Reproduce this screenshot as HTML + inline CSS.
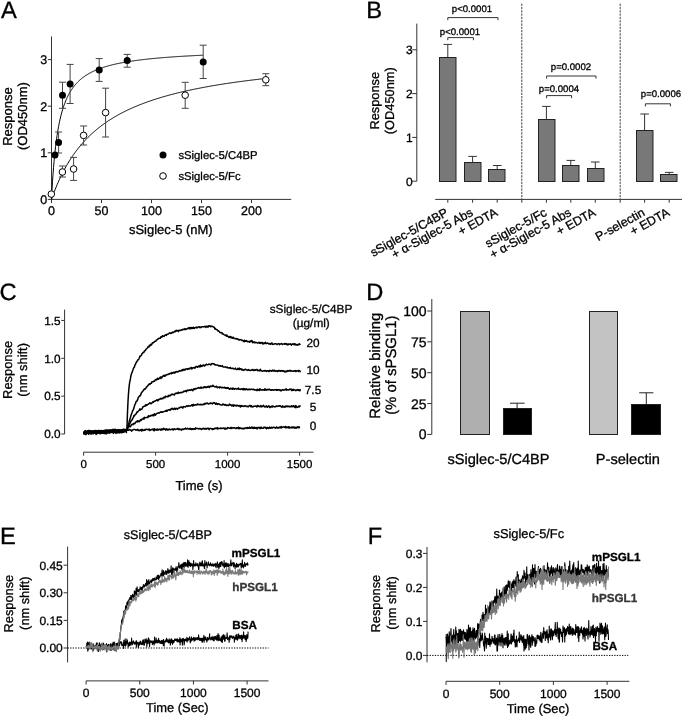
<!DOCTYPE html>
<html><head><meta charset="utf-8"><style>
html,body{margin:0;padding:0;background:#fff;}
svg{display:block;filter:grayscale(1);}
text{font-family:"Liberation Sans", sans-serif;}
</style></head><body>
<svg width="685" height="719" viewBox="0 0 685 719" text-rendering="geometricPrecision">
<rect width="685" height="719" fill="#fff"/>
<text x="0.90" y="17.80" font-size="23.7" text-anchor="start" fill="#000" stroke="#000" stroke-width="0.3" >A</text>
<text x="366.20" y="17.80" font-size="23.7" text-anchor="start" fill="#000" stroke="#000" stroke-width="0.3" >B</text>
<text x="-0.60" y="299.80" font-size="23.7" text-anchor="start" fill="#000" stroke="#000" stroke-width="0.3" >C</text>
<text x="366.30" y="299.80" font-size="23.7" text-anchor="start" fill="#000" stroke="#000" stroke-width="0.3" >D</text>
<text x="-0.10" y="543.90" font-size="23.7" text-anchor="start" fill="#000" stroke="#000" stroke-width="0.3" >E</text>
<text x="367.70" y="543.90" font-size="23.7" text-anchor="start" fill="#000" stroke="#000" stroke-width="0.3" >F</text>
<line x1="51.50" y1="36.40" x2="51.50" y2="199.40" stroke="#333" stroke-width="1" />
<line x1="51.50" y1="199.40" x2="291.20" y2="199.40" stroke="#333" stroke-width="1" />
<line x1="47.80" y1="199.40" x2="51.50" y2="199.40" stroke="#333" stroke-width="1" />
<text x="47.20" y="203.80" font-size="12.5" text-anchor="end" fill="#000" stroke="#000" stroke-width="0.3" >0</text>
<line x1="47.80" y1="152.80" x2="51.50" y2="152.80" stroke="#333" stroke-width="1" />
<text x="47.20" y="157.20" font-size="12.5" text-anchor="end" fill="#000" stroke="#000" stroke-width="0.3" >1</text>
<line x1="47.80" y1="106.20" x2="51.50" y2="106.20" stroke="#333" stroke-width="1" />
<text x="47.20" y="110.60" font-size="12.5" text-anchor="end" fill="#000" stroke="#000" stroke-width="0.3" >2</text>
<line x1="47.80" y1="59.60" x2="51.50" y2="59.60" stroke="#333" stroke-width="1" />
<text x="47.20" y="64.00" font-size="12.5" text-anchor="end" fill="#000" stroke="#000" stroke-width="0.3" >3</text>
<line x1="51.50" y1="199.40" x2="51.50" y2="203.10" stroke="#333" stroke-width="1" />
<text x="51.50" y="215.30" font-size="12.5" text-anchor="middle" fill="#000" stroke="#000" stroke-width="0.3" >0</text>
<line x1="101.50" y1="199.40" x2="101.50" y2="203.10" stroke="#333" stroke-width="1" />
<text x="101.50" y="215.30" font-size="12.5" text-anchor="middle" fill="#000" stroke="#000" stroke-width="0.3" >50</text>
<line x1="151.50" y1="199.40" x2="151.50" y2="203.10" stroke="#333" stroke-width="1" />
<text x="151.50" y="215.30" font-size="12.5" text-anchor="middle" fill="#000" stroke="#000" stroke-width="0.3" >100</text>
<line x1="201.50" y1="199.40" x2="201.50" y2="203.10" stroke="#333" stroke-width="1" />
<text x="201.50" y="215.30" font-size="12.5" text-anchor="middle" fill="#000" stroke="#000" stroke-width="0.3" >150</text>
<line x1="251.50" y1="199.40" x2="251.50" y2="203.10" stroke="#333" stroke-width="1" />
<text x="251.50" y="215.30" font-size="12.5" text-anchor="middle" fill="#000" stroke="#000" stroke-width="0.3" >200</text>
<text x="170.80" y="234.00" font-size="13" text-anchor="middle" fill="#000" stroke="#000" stroke-width="0.3" >sSiglec-5 (nM)</text>
<text x="11.90" y="116.60" font-size="13" text-anchor="middle" fill="#000" stroke="#000" stroke-width="0.3" transform="rotate(-90 11.90 116.60)" >Response</text>
<text x="27.20" y="116.10" font-size="13" text-anchor="middle" fill="#000" stroke="#000" stroke-width="0.3" transform="rotate(-90 27.20 116.10)" >(OD450nm)</text>
<polyline points="51.50,199.40 52.01,189.96 52.51,181.62 53.02,174.21 53.53,167.58 54.04,161.61 54.54,156.21 55.05,151.30 55.56,146.81 56.07,142.70 56.57,138.91 57.08,135.42 57.59,132.19 58.10,129.18 58.60,126.38 59.11,123.77 59.62,121.33 60.13,119.04 60.63,116.89 61.14,114.86 61.65,112.95 62.15,111.15 62.66,109.44 63.17,107.83 63.68,106.29 64.18,104.84 64.69,103.45 65.20,102.13 65.71,100.87 66.21,99.67 66.72,98.52 67.23,97.42 67.74,96.37 68.24,95.36 68.75,94.40 69.26,93.47 69.76,92.58 70.27,91.72 70.78,90.89 71.29,90.10 71.79,89.33 72.30,88.59 72.81,87.88 73.32,87.19 73.82,86.53 74.33,85.89 74.84,85.26 75.35,84.66 75.85,84.08 76.36,83.52 76.87,82.97 77.38,82.44 77.88,81.92 78.39,81.43 78.90,80.94 79.40,80.47 79.91,80.01 80.42,79.57 80.93,79.13 81.43,78.71 81.94,78.30 82.45,77.90 82.96,77.51 83.46,77.14 83.97,76.77 84.48,76.41 84.99,76.06 85.49,75.71 86.00,75.38 86.51,75.05 87.02,74.73 87.52,74.42 88.03,74.12 88.54,73.82 89.04,73.53 89.55,73.25 90.06,72.97 90.57,72.70 91.07,72.43 91.58,72.17 92.09,71.92 92.60,71.67 93.10,71.42 93.61,71.18 94.12,70.95 94.63,70.72 95.13,70.49 95.64,70.27 96.15,70.05 96.65,69.84 97.16,69.63 97.67,69.43 98.18,69.23 98.68,69.03 99.19,68.84 99.70,68.65 100.21,68.46 100.71,68.28 101.22,68.10 101.73,67.92 102.24,67.75 102.74,67.58 103.25,67.41 103.76,67.25 104.27,67.08 104.77,66.92 105.28,66.77 105.79,66.61 106.29,66.46 106.80,66.31 107.31,66.17 107.82,66.02 108.32,65.88 108.83,65.74 109.34,65.60 109.85,65.46 110.35,65.33 110.86,65.20 111.37,65.07 111.88,64.94 112.38,64.82 112.89,64.69 113.40,64.57 113.91,64.45 114.41,64.33 114.92,64.21 115.43,64.10 115.93,63.99 116.44,63.87 116.95,63.76 117.46,63.65 117.96,63.55 118.47,63.44 118.98,63.34 119.49,63.23 119.99,63.13 120.50,63.03 121.01,62.93 121.52,62.83 122.02,62.74 122.53,62.64 123.04,62.55 123.54,62.45 124.05,62.36 124.56,62.27 125.07,62.18 125.57,62.09 126.08,62.01 126.59,61.92 127.10,61.83 127.60,61.75 128.11,61.67 128.62,61.59 129.13,61.50 129.63,61.42 130.14,61.34 130.65,61.27 131.16,61.19 131.66,61.11 132.17,61.04 132.68,60.96 133.18,60.89 133.69,60.82 134.20,60.74 134.71,60.67 135.21,60.60 135.72,60.53 136.23,60.46 136.74,60.39 137.24,60.33 137.75,60.26 138.26,60.19 138.77,60.13 139.27,60.06 139.78,60.00 140.29,59.93 140.79,59.87 141.30,59.81 141.81,59.75 142.32,59.69 142.82,59.63 143.33,59.57 143.84,59.51 144.35,59.45 144.85,59.39 145.36,59.34 145.87,59.28 146.38,59.22 146.88,59.17 147.39,59.11 147.90,59.06 148.41,59.00 148.91,58.95 149.42,58.90 149.93,58.85 150.43,58.79 150.94,58.74 151.45,58.69 151.96,58.64 152.46,58.59 152.97,58.54 153.48,58.49 153.99,58.44 154.49,58.40 155.00,58.35 155.51,58.30 156.02,58.25 156.52,58.21 157.03,58.16 157.54,58.12 158.05,58.07 158.55,58.03 159.06,57.98 159.57,57.94 160.07,57.89 160.58,57.85 161.09,57.81 161.60,57.77 162.10,57.72 162.61,57.68 163.12,57.64 163.63,57.60 164.13,57.56 164.64,57.52 165.15,57.48 165.66,57.44 166.16,57.40 166.67,57.36 167.18,57.32 167.68,57.28 168.19,57.24 168.70,57.21 169.21,57.17 169.71,57.13 170.22,57.10 170.73,57.06 171.24,57.02 171.74,56.99 172.25,56.95 172.76,56.92 173.27,56.88 173.77,56.85 174.28,56.81 174.79,56.78 175.30,56.74 175.80,56.71 176.31,56.68 176.82,56.64 177.32,56.61 177.83,56.58 178.34,56.54 178.85,56.51 179.35,56.48 179.86,56.45 180.37,56.42 180.88,56.38 181.38,56.35 181.89,56.32 182.40,56.29 182.91,56.26 183.41,56.23 183.92,56.20 184.43,56.17 184.94,56.14 185.44,56.11 185.95,56.08 186.46,56.05 186.96,56.03 187.47,56.00 187.98,55.97 188.49,55.94 188.99,55.91 189.50,55.88 190.01,55.86 190.52,55.83 191.02,55.80 191.53,55.78 192.04,55.75 192.55,55.72 193.05,55.70 193.56,55.67 194.07,55.64 194.57,55.62 195.08,55.59 195.59,55.57 196.10,55.54 196.60,55.52 197.11,55.49 197.62,55.47 198.13,55.44 198.63,55.42 199.14,55.39 199.65,55.37 200.16,55.34 200.66,55.32 201.17,55.30 201.68,55.27 202.19,55.25 202.69,55.23 203.20,55.20" fill="none" stroke="#000" stroke-width="1" stroke-linejoin="round" />
<polyline points="51.50,199.40 52.22,197.35 52.93,195.36 53.65,193.42 54.37,191.54 55.08,189.70 55.80,187.90 56.52,186.16 57.23,184.45 57.95,182.79 58.67,181.17 59.38,179.59 60.10,178.04 60.82,176.53 61.53,175.06 62.25,173.62 62.97,172.21 63.68,170.84 64.40,169.49 65.12,168.17 65.83,166.89 66.55,165.63 67.27,164.39 67.98,163.18 68.70,162.00 69.42,160.84 70.13,159.71 70.85,158.60 71.57,157.51 72.28,156.44 73.00,155.39 73.72,154.36 74.44,153.36 75.15,152.37 75.87,151.40 76.59,150.45 77.30,149.51 78.02,148.59 78.74,147.69 79.45,146.81 80.17,145.94 80.89,145.09 81.60,144.25 82.32,143.42 83.04,142.62 83.75,141.82 84.47,141.04 85.19,140.27 85.90,139.51 86.62,138.77 87.34,138.03 88.05,137.31 88.77,136.61 89.49,135.91 90.20,135.22 90.92,134.55 91.64,133.88 92.35,133.23 93.07,132.58 93.79,131.95 94.50,131.32 95.22,130.71 95.94,130.10 96.65,129.50 97.37,128.91 98.09,128.33 98.80,127.76 99.52,127.20 100.24,126.64 100.95,126.09 101.67,125.55 102.39,125.02 103.10,124.50 103.82,123.98 104.54,123.47 105.25,122.96 105.97,122.47 106.69,121.97 107.40,121.49 108.12,121.01 108.84,120.54 109.55,120.08 110.27,119.62 110.99,119.16 111.70,118.72 112.42,118.27 113.14,117.84 113.85,117.41 114.57,116.98 115.29,116.56 116.01,116.15 116.72,115.74 117.44,115.33 118.16,114.93 118.87,114.54 119.59,114.15 120.31,113.76 121.02,113.38 121.74,113.00 122.46,112.63 123.17,112.26 123.89,111.90 124.61,111.54 125.32,111.18 126.04,110.83 126.76,110.48 127.47,110.14 128.19,109.80 128.91,109.46 129.62,109.13 130.34,108.80 131.06,108.48 131.77,108.16 132.49,107.84 133.21,107.52 133.92,107.21 134.64,106.90 135.36,106.60 136.07,106.30 136.79,106.00 137.51,105.70 138.22,105.41 138.94,105.12 139.66,104.83 140.37,104.55 141.09,104.27 141.81,103.99 142.52,103.72 143.24,103.45 143.96,103.18 144.67,102.91 145.39,102.64 146.11,102.38 146.82,102.12 147.54,101.87 148.26,101.61 148.97,101.36 149.69,101.11 150.41,100.87 151.12,100.62 151.84,100.38 152.56,100.14 153.27,99.90 153.99,99.67 154.71,99.43 155.42,99.20 156.14,98.97 156.86,98.74 157.57,98.52 158.29,98.30 159.01,98.08 159.73,97.86 160.44,97.64 161.16,97.43 161.88,97.21 162.59,97.00 163.31,96.79 164.03,96.58 164.74,96.38 165.46,96.17 166.18,95.97 166.89,95.77 167.61,95.57 168.33,95.37 169.04,95.18 169.76,94.99 170.48,94.79 171.19,94.60 171.91,94.41 172.63,94.23 173.34,94.04 174.06,93.86 174.78,93.67 175.49,93.49 176.21,93.31 176.93,93.13 177.64,92.96 178.36,92.78 179.08,92.61 179.79,92.43 180.51,92.26 181.23,92.09 181.94,91.92 182.66,91.76 183.38,91.59 184.09,91.43 184.81,91.26 185.53,91.10 186.24,90.94 186.96,90.78 187.68,90.62 188.39,90.46 189.11,90.31 189.83,90.15 190.54,90.00 191.26,89.84 191.98,89.69 192.69,89.54 193.41,89.39 194.13,89.25 194.84,89.10 195.56,88.95 196.28,88.81 196.99,88.66 197.71,88.52 198.43,88.38 199.14,88.24 199.86,88.10 200.58,87.96 201.29,87.82 202.01,87.68 202.73,87.55 203.45,87.41 204.16,87.28 204.88,87.15 205.60,87.01 206.31,86.88 207.03,86.75 207.75,86.62 208.46,86.49 209.18,86.37 209.90,86.24 210.61,86.11 211.33,85.99 212.05,85.86 212.76,85.74 213.48,85.62 214.20,85.50 214.91,85.38 215.63,85.26 216.35,85.14 217.06,85.02 217.78,84.90 218.50,84.78 219.21,84.67 219.93,84.55 220.65,84.44 221.36,84.32 222.08,84.21 222.80,84.10 223.51,83.98 224.23,83.87 224.95,83.76 225.66,83.65 226.38,83.54 227.10,83.44 227.81,83.33 228.53,83.22 229.25,83.12 229.96,83.01 230.68,82.90 231.40,82.80 232.11,82.70 232.83,82.59 233.55,82.49 234.26,82.39 234.98,82.29 235.70,82.19 236.41,82.09 237.13,81.99 237.85,81.89 238.56,81.79 239.28,81.69 240.00,81.60 240.71,81.50 241.43,81.40 242.15,81.31 242.86,81.21 243.58,81.12 244.30,81.03 245.02,80.93 245.73,80.84 246.45,80.75 247.17,80.66 247.88,80.57 248.60,80.48 249.32,80.39 250.03,80.30 250.75,80.21 251.47,80.12 252.18,80.03 252.90,79.94 253.62,79.86 254.33,79.77 255.05,79.69 255.77,79.60 256.48,79.52 257.20,79.43 257.92,79.35 258.63,79.26 259.35,79.18 260.07,79.10 260.78,79.02 261.50,78.93 262.22,78.85 262.93,78.77 263.65,78.69 264.37,78.61 265.08,78.53 265.80,78.45" fill="none" stroke="#000" stroke-width="1" stroke-linejoin="round" />
<line x1="58.60" y1="132.00" x2="58.60" y2="153.00" stroke="#444" stroke-width="1" />
<line x1="55.10" y1="132.00" x2="62.10" y2="132.00" stroke="#444" stroke-width="1" />
<line x1="55.10" y1="153.00" x2="62.10" y2="153.00" stroke="#444" stroke-width="1" />
<line x1="62.50" y1="82.20" x2="62.50" y2="108.30" stroke="#444" stroke-width="1" />
<line x1="59.00" y1="82.20" x2="66.00" y2="82.20" stroke="#444" stroke-width="1" />
<line x1="59.00" y1="108.30" x2="66.00" y2="108.30" stroke="#444" stroke-width="1" />
<line x1="70.10" y1="64.40" x2="70.10" y2="103.50" stroke="#444" stroke-width="1" />
<line x1="66.60" y1="64.40" x2="73.60" y2="64.40" stroke="#444" stroke-width="1" />
<line x1="66.60" y1="103.50" x2="73.60" y2="103.50" stroke="#444" stroke-width="1" />
<line x1="99.20" y1="58.60" x2="99.20" y2="81.40" stroke="#444" stroke-width="1" />
<line x1="95.70" y1="58.60" x2="102.70" y2="58.60" stroke="#444" stroke-width="1" />
<line x1="95.70" y1="81.40" x2="102.70" y2="81.40" stroke="#444" stroke-width="1" />
<line x1="127.20" y1="54.40" x2="127.20" y2="67.20" stroke="#444" stroke-width="1" />
<line x1="123.70" y1="54.40" x2="130.70" y2="54.40" stroke="#444" stroke-width="1" />
<line x1="123.70" y1="67.20" x2="130.70" y2="67.20" stroke="#444" stroke-width="1" />
<line x1="203.20" y1="45.20" x2="203.20" y2="78.50" stroke="#444" stroke-width="1" />
<line x1="199.70" y1="45.20" x2="206.70" y2="45.20" stroke="#444" stroke-width="1" />
<line x1="199.70" y1="78.50" x2="206.70" y2="78.50" stroke="#444" stroke-width="1" />
<line x1="62.40" y1="166.00" x2="62.40" y2="177.00" stroke="#444" stroke-width="1" />
<line x1="58.90" y1="166.00" x2="65.90" y2="166.00" stroke="#444" stroke-width="1" />
<line x1="58.90" y1="177.00" x2="65.90" y2="177.00" stroke="#444" stroke-width="1" />
<line x1="73.60" y1="157.40" x2="73.60" y2="180.40" stroke="#444" stroke-width="1" />
<line x1="70.10" y1="157.40" x2="77.10" y2="157.40" stroke="#444" stroke-width="1" />
<line x1="70.10" y1="180.40" x2="77.10" y2="180.40" stroke="#444" stroke-width="1" />
<line x1="83.60" y1="126.00" x2="83.60" y2="145.00" stroke="#444" stroke-width="1" />
<line x1="80.10" y1="126.00" x2="87.10" y2="126.00" stroke="#444" stroke-width="1" />
<line x1="80.10" y1="145.00" x2="87.10" y2="145.00" stroke="#444" stroke-width="1" />
<line x1="105.60" y1="88.20" x2="105.60" y2="137.00" stroke="#444" stroke-width="1" />
<line x1="102.10" y1="88.20" x2="109.10" y2="88.20" stroke="#444" stroke-width="1" />
<line x1="102.10" y1="137.00" x2="109.10" y2="137.00" stroke="#444" stroke-width="1" />
<line x1="185.20" y1="82.30" x2="185.20" y2="108.30" stroke="#444" stroke-width="1" />
<line x1="181.70" y1="82.30" x2="188.70" y2="82.30" stroke="#444" stroke-width="1" />
<line x1="181.70" y1="108.30" x2="188.70" y2="108.30" stroke="#444" stroke-width="1" />
<line x1="265.80" y1="73.70" x2="265.80" y2="85.70" stroke="#444" stroke-width="1" />
<line x1="262.30" y1="73.70" x2="269.30" y2="73.70" stroke="#444" stroke-width="1" />
<line x1="262.30" y1="85.70" x2="269.30" y2="85.70" stroke="#444" stroke-width="1" />
<circle cx="55" cy="155" r="3.5" fill="#000"/>
<circle cx="58.6" cy="142.6" r="3.5" fill="#000"/>
<circle cx="62.5" cy="95.3" r="3.5" fill="#000"/>
<circle cx="70.1" cy="83.9" r="3.5" fill="#000"/>
<circle cx="99.2" cy="70" r="3.5" fill="#000"/>
<circle cx="127.2" cy="60.6" r="3.5" fill="#000"/>
<circle cx="203.2" cy="62.1" r="3.5" fill="#000"/>
<circle cx="51.3" cy="194.1" r="3.3" fill="#fff" stroke="#000" stroke-width="1"/>
<circle cx="62.4" cy="172" r="3.3" fill="#fff" stroke="#000" stroke-width="1"/>
<circle cx="73.6" cy="169" r="3.3" fill="#fff" stroke="#000" stroke-width="1"/>
<circle cx="83.6" cy="135.4" r="3.3" fill="#fff" stroke="#000" stroke-width="1"/>
<circle cx="105.6" cy="112.6" r="3.3" fill="#fff" stroke="#000" stroke-width="1"/>
<circle cx="185.2" cy="95.2" r="3.3" fill="#fff" stroke="#000" stroke-width="1"/>
<circle cx="265.8" cy="79.8" r="3.3" fill="#fff" stroke="#000" stroke-width="1"/>
<circle cx="163" cy="155" r="3.5" fill="#000"/>
<circle cx="163" cy="176" r="3.3" fill="#fff" stroke="#000" stroke-width="1"/>
<text x="178.40" y="159.40" font-size="11.3" text-anchor="start" fill="#000" stroke="#000" stroke-width="0.3" >sSiglec-5/C4BP</text>
<text x="178.40" y="180.20" font-size="11.3" text-anchor="start" fill="#000" stroke="#000" stroke-width="0.3" >sSiglec-5/Fc</text>
<line x1="416.80" y1="23.60" x2="416.80" y2="181.20" stroke="#333" stroke-width="1" />
<line x1="412.20" y1="181.20" x2="416.80" y2="181.20" stroke="#333" stroke-width="1" />
<text x="412.80" y="185.50" font-size="12" text-anchor="end" fill="#000" stroke="#000" stroke-width="0.3" >0</text>
<line x1="412.20" y1="137.40" x2="416.80" y2="137.40" stroke="#333" stroke-width="1" />
<text x="412.80" y="141.70" font-size="12" text-anchor="end" fill="#000" stroke="#000" stroke-width="0.3" >1</text>
<line x1="412.20" y1="93.60" x2="416.80" y2="93.60" stroke="#333" stroke-width="1" />
<text x="412.80" y="97.90" font-size="12" text-anchor="end" fill="#000" stroke="#000" stroke-width="0.3" >2</text>
<line x1="412.20" y1="49.80" x2="416.80" y2="49.80" stroke="#333" stroke-width="1" />
<text x="412.80" y="54.10" font-size="12" text-anchor="end" fill="#000" stroke="#000" stroke-width="0.3" >3</text>
<text x="378.90" y="100.70" font-size="12.8" text-anchor="middle" fill="#000" stroke="#000" stroke-width="0.3" transform="rotate(-90 378.90 100.70)" >Response</text>
<text x="394.00" y="100.70" font-size="12.8" text-anchor="middle" fill="#000" stroke="#000" stroke-width="0.3" transform="rotate(-90 394.00 100.70)" >(OD450nm)</text>
<line x1="435.20" y1="199.40" x2="682.00" y2="199.40" stroke="#333" stroke-width="1" />
<line x1="447.80" y1="199.40" x2="447.80" y2="202.70" stroke="#333" stroke-width="1" />
<line x1="472.60" y1="199.40" x2="472.60" y2="202.70" stroke="#333" stroke-width="1" />
<line x1="497.20" y1="199.40" x2="497.20" y2="202.70" stroke="#333" stroke-width="1" />
<line x1="521.80" y1="199.40" x2="521.80" y2="202.70" stroke="#333" stroke-width="1" />
<line x1="546.40" y1="199.40" x2="546.40" y2="202.70" stroke="#333" stroke-width="1" />
<line x1="570.80" y1="199.40" x2="570.80" y2="202.70" stroke="#333" stroke-width="1" />
<line x1="595.30" y1="199.40" x2="595.30" y2="202.70" stroke="#333" stroke-width="1" />
<line x1="620.20" y1="199.40" x2="620.20" y2="202.70" stroke="#333" stroke-width="1" />
<line x1="644.60" y1="199.40" x2="644.60" y2="202.70" stroke="#333" stroke-width="1" />
<line x1="669.20" y1="199.40" x2="669.20" y2="202.70" stroke="#333" stroke-width="1" />
<line x1="521.80" y1="3.60" x2="521.80" y2="199.40" stroke="#444" stroke-width="1" stroke-dasharray="2.3,1"/>
<line x1="620.20" y1="3.60" x2="620.20" y2="199.40" stroke="#444" stroke-width="1" stroke-dasharray="2.3,1"/>
<line x1="447.80" y1="57.00" x2="447.80" y2="44.40" stroke="#333" stroke-width="1" />
<line x1="443.50" y1="44.40" x2="452.10" y2="44.40" stroke="#333" stroke-width="1" />
<rect x="439.50" y="57.50" width="16.5" height="124.00" fill="#787878" stroke="#222" stroke-width="1"/>
<line x1="472.60" y1="162.40" x2="472.60" y2="156.40" stroke="#333" stroke-width="1" />
<line x1="468.30" y1="156.40" x2="476.90" y2="156.40" stroke="#333" stroke-width="1" />
<rect x="464.50" y="162.50" width="16.5" height="19.00" fill="#787878" stroke="#222" stroke-width="1"/>
<line x1="497.20" y1="169.00" x2="497.20" y2="165.50" stroke="#333" stroke-width="1" />
<line x1="492.90" y1="165.50" x2="501.50" y2="165.50" stroke="#333" stroke-width="1" />
<rect x="488.50" y="169.50" width="16.5" height="12.00" fill="#787878" stroke="#222" stroke-width="1"/>
<line x1="546.40" y1="119.60" x2="546.40" y2="106.40" stroke="#333" stroke-width="1" />
<line x1="542.10" y1="106.40" x2="550.70" y2="106.40" stroke="#333" stroke-width="1" />
<rect x="538.50" y="119.50" width="16.5" height="62.00" fill="#787878" stroke="#222" stroke-width="1"/>
<line x1="570.80" y1="165.60" x2="570.80" y2="160.40" stroke="#333" stroke-width="1" />
<line x1="566.50" y1="160.40" x2="575.10" y2="160.40" stroke="#333" stroke-width="1" />
<rect x="562.50" y="165.50" width="16.5" height="16.00" fill="#787878" stroke="#222" stroke-width="1"/>
<line x1="595.30" y1="168.60" x2="595.30" y2="162.00" stroke="#333" stroke-width="1" />
<line x1="591.00" y1="162.00" x2="599.60" y2="162.00" stroke="#333" stroke-width="1" />
<rect x="587.50" y="168.50" width="16.5" height="13.00" fill="#787878" stroke="#222" stroke-width="1"/>
<line x1="644.60" y1="130.20" x2="644.60" y2="114.00" stroke="#333" stroke-width="1" />
<line x1="640.30" y1="114.00" x2="648.90" y2="114.00" stroke="#333" stroke-width="1" />
<rect x="636.50" y="130.50" width="16.5" height="51.00" fill="#787878" stroke="#222" stroke-width="1"/>
<line x1="669.20" y1="174.40" x2="669.20" y2="172.40" stroke="#333" stroke-width="1" />
<line x1="664.90" y1="172.40" x2="673.50" y2="172.40" stroke="#333" stroke-width="1" />
<rect x="660.50" y="174.50" width="16.5" height="7.00" fill="#787878" stroke="#222" stroke-width="1"/>
<polyline points="447.8,20.200000000000003 447.8,17.6 498,17.6 498,20.200000000000003" fill="none" stroke="#333" stroke-width="1"/>
<text x="472.00" y="11.60" font-size="9.6" text-anchor="middle" fill="#000" stroke="#000" stroke-width="0.3" >p&lt;0.0001</text>
<polyline points="447.8,40.2 447.8,37.6 473.4,37.6 473.4,40.2" fill="none" stroke="#333" stroke-width="1"/>
<text x="460.00" y="35.00" font-size="9.6" text-anchor="middle" fill="#000" stroke="#000" stroke-width="0.3" >p&lt;0.0001</text>
<polyline points="546.6,78.6 546.6,76 596,76 596,78.6" fill="none" stroke="#333" stroke-width="1"/>
<text x="571.00" y="70.40" font-size="9.6" text-anchor="middle" fill="#000" stroke="#000" stroke-width="0.3" >p=0.0002</text>
<polyline points="546.6,98.19999999999999 546.6,95.6 571.6,95.6 571.6,98.19999999999999" fill="none" stroke="#333" stroke-width="1"/>
<text x="559.00" y="92.40" font-size="9.6" text-anchor="middle" fill="#000" stroke="#000" stroke-width="0.3" >p=0.0004</text>
<polyline points="645.4,106.39999999999999 645.4,103.8 670.4,103.8 670.4,106.39999999999999" fill="none" stroke="#333" stroke-width="1"/>
<text x="661.00" y="97.00" font-size="9.6" text-anchor="middle" fill="#000" stroke="#000" stroke-width="0.3" >p=0.0006</text>
<text x="449.10" y="214.90" font-size="12.4" text-anchor="end" fill="#000" stroke="#000" stroke-width="0.3" transform="rotate(-29 449.10 214.90)" >sSiglec-5/C4BP</text>
<text x="473.90" y="214.90" font-size="12.4" text-anchor="end" fill="#000" stroke="#000" stroke-width="0.3" transform="rotate(-29 473.90 214.90)" >+ α-Siglec-5 Abs</text>
<text x="498.50" y="214.90" font-size="12.4" text-anchor="end" fill="#000" stroke="#000" stroke-width="0.3" transform="rotate(-29 498.50 214.90)" >+ EDTA</text>
<text x="547.70" y="214.90" font-size="12.4" text-anchor="end" fill="#000" stroke="#000" stroke-width="0.3" transform="rotate(-29 547.70 214.90)" >sSiglec-5/Fc</text>
<text x="572.10" y="214.90" font-size="12.4" text-anchor="end" fill="#000" stroke="#000" stroke-width="0.3" transform="rotate(-29 572.10 214.90)" >+ α-Siglec-5 Abs</text>
<text x="596.60" y="214.90" font-size="12.4" text-anchor="end" fill="#000" stroke="#000" stroke-width="0.3" transform="rotate(-29 596.60 214.90)" >+ EDTA</text>
<text x="645.90" y="214.90" font-size="12.4" text-anchor="end" fill="#000" stroke="#000" stroke-width="0.3" transform="rotate(-29 645.90 214.90)" >P-selectin</text>
<text x="670.50" y="214.90" font-size="12.4" text-anchor="end" fill="#000" stroke="#000" stroke-width="0.3" transform="rotate(-29 670.50 214.90)" >+ EDTA</text>
<line x1="64.60" y1="309.60" x2="64.60" y2="434.00" stroke="#333" stroke-width="1" />
<line x1="61.30" y1="434.00" x2="64.60" y2="434.00" stroke="#333" stroke-width="1" />
<text x="60.70" y="438.20" font-size="11.8" text-anchor="end" fill="#000" stroke="#000" stroke-width="0.3" >0.0</text>
<line x1="61.30" y1="396.15" x2="64.60" y2="396.15" stroke="#333" stroke-width="1" />
<text x="60.70" y="400.35" font-size="11.8" text-anchor="end" fill="#000" stroke="#000" stroke-width="0.3" >0.5</text>
<line x1="61.30" y1="358.30" x2="64.60" y2="358.30" stroke="#333" stroke-width="1" />
<text x="60.70" y="362.50" font-size="11.8" text-anchor="end" fill="#000" stroke="#000" stroke-width="0.3" >1.0</text>
<line x1="61.30" y1="320.45" x2="64.60" y2="320.45" stroke="#333" stroke-width="1" />
<text x="60.70" y="324.65" font-size="11.8" text-anchor="end" fill="#000" stroke="#000" stroke-width="0.3" >1.5</text>
<line x1="83.50" y1="452.20" x2="313.50" y2="452.20" stroke="#333" stroke-width="1" />
<line x1="83.60" y1="452.20" x2="83.60" y2="455.70" stroke="#333" stroke-width="1" />
<text x="83.60" y="467.80" font-size="11.5" text-anchor="middle" fill="#000" stroke="#000" stroke-width="0.3" >0</text>
<line x1="155.60" y1="452.20" x2="155.60" y2="455.70" stroke="#333" stroke-width="1" />
<text x="155.60" y="467.80" font-size="11.5" text-anchor="middle" fill="#000" stroke="#000" stroke-width="0.3" >500</text>
<line x1="227.60" y1="452.20" x2="227.60" y2="455.70" stroke="#333" stroke-width="1" />
<text x="227.60" y="467.80" font-size="11.5" text-anchor="middle" fill="#000" stroke="#000" stroke-width="0.3" >1000</text>
<line x1="299.60" y1="452.20" x2="299.60" y2="455.70" stroke="#333" stroke-width="1" />
<text x="299.60" y="467.80" font-size="11.5" text-anchor="middle" fill="#000" stroke="#000" stroke-width="0.3" >1500</text>
<text x="199.00" y="489.70" font-size="13" text-anchor="middle" fill="#000" stroke="#000" stroke-width="0.3" >Time (s)</text>
<text x="12.20" y="369.90" font-size="12.9" text-anchor="middle" fill="#000" stroke="#000" stroke-width="0.3" transform="rotate(-90 12.20 369.90)" >Response</text>
<text x="27.30" y="369.90" font-size="12.9" text-anchor="middle" fill="#000" stroke="#000" stroke-width="0.3" transform="rotate(-90 27.30 369.90)" >(nm shift)</text>
<text x="311.00" y="313.40" font-size="11.8" text-anchor="middle" fill="#000" stroke="#000" stroke-width="0.3" >sSiglec-5/C4BP</text>
<text x="311.30" y="327.30" font-size="11.8" text-anchor="middle" fill="#000" stroke="#000" stroke-width="0.3" >(µg/ml)</text>
<text x="313.00" y="347.40" font-size="11.8" text-anchor="middle" fill="#000" stroke="#000" stroke-width="0.3" >20</text>
<text x="313.00" y="374.20" font-size="11.8" text-anchor="middle" fill="#000" stroke="#000" stroke-width="0.3" >10</text>
<text x="313.00" y="394.20" font-size="11.8" text-anchor="middle" fill="#000" stroke="#000" stroke-width="0.3" >7.5</text>
<text x="313.00" y="410.80" font-size="11.8" text-anchor="middle" fill="#000" stroke="#000" stroke-width="0.3" >5</text>
<text x="313.00" y="429.80" font-size="11.8" text-anchor="middle" fill="#000" stroke="#000" stroke-width="0.3" >0</text>
<polyline points="126.90,430.40 127.40,414.76 127.90,403.20 128.40,394.73 128.90,388.90 129.40,384.13 129.90,381.13 130.40,378.96 130.90,375.91 131.40,373.99 131.90,372.89 132.40,371.42 132.90,370.02 133.40,368.38 133.90,367.69 134.40,366.97 134.90,365.06 135.40,364.51 135.90,362.93 136.40,362.32 136.90,361.20 137.40,361.08 137.90,359.80 138.40,359.69 138.90,358.85 139.40,357.94 139.90,356.14 140.40,356.30 140.90,355.81 141.40,355.19 141.90,353.77 142.40,353.58 142.90,352.71 143.40,352.15 143.90,352.37 144.40,350.93 144.90,350.68 145.40,350.52 145.90,349.29 146.40,348.95 146.90,348.51 147.40,347.96 147.90,346.87 148.40,346.95 148.90,347.03 149.40,345.24 149.90,345.86 150.40,345.06 150.90,344.27 151.40,345.02 151.90,344.04 152.40,342.73 152.90,342.90 153.40,342.72 153.90,341.98 154.40,341.99 154.90,341.28 155.40,341.25 155.90,341.24 156.40,339.94 156.90,339.99 157.40,339.36 157.90,339.30 158.40,338.38 158.90,338.35 159.40,338.21 159.90,338.41 160.40,338.23 160.90,336.83 161.40,336.79 161.90,337.17 162.40,335.72 162.90,336.15 163.40,336.06 163.90,336.42 164.40,335.92 164.90,335.23 165.40,334.98 165.90,334.80 166.40,335.38 166.90,334.29 167.40,334.13 167.90,334.22 168.40,333.81 168.90,333.57 169.40,332.97 169.90,333.28 170.40,332.90 170.90,333.44 171.40,333.04 171.90,332.56 172.40,332.70 172.90,332.09 173.40,332.55 173.90,331.92 174.40,332.03 174.90,331.04 175.40,331.63 175.90,330.57 176.40,330.27 176.90,330.92 177.40,330.51 177.90,330.86 178.40,331.67 178.90,330.16 179.40,330.13 179.90,330.39 180.40,330.40 180.90,329.99 181.40,329.86 181.90,330.16 182.40,329.97 182.90,329.17 183.40,329.50 183.90,329.45 184.40,328.86 184.90,329.36 185.40,328.76 185.90,329.50 186.40,329.06 186.90,328.92 187.40,328.53 187.90,328.66 188.40,327.74 188.90,328.05 189.40,328.64 189.90,327.45 190.40,328.71 190.90,327.47 191.40,328.53 191.90,327.74 192.40,328.40 192.90,328.05 193.40,327.23 193.90,328.42 194.40,328.45 194.90,327.71 195.40,327.56 195.90,327.55 196.40,327.13 196.90,328.01 197.40,327.21 197.90,327.38 198.40,327.00 198.90,327.02 199.40,326.68 199.90,327.77 200.40,327.09 200.90,327.55 201.40,327.08 201.90,326.72 202.40,326.84 202.90,326.69 203.40,326.91 203.90,326.70 204.40,326.69 204.90,326.17 205.40,326.39 205.90,327.46 206.40,326.38 206.90,326.17 207.40,326.76 207.90,327.21 208.40,325.89 208.90,326.42 209.40,326.20 209.90,325.66 210.40,326.75 210.90,326.38 211.40,326.40 211.90,326.00 212.40,326.52 212.90,326.43 213.40,327.05 213.90,327.05 214.40,327.42 214.90,328.98 215.40,328.55 215.90,329.30 216.40,329.54 216.90,329.73 217.40,330.06 217.90,330.92 218.40,330.85 218.90,331.25 219.40,331.66 219.90,332.50 220.40,332.59 220.90,332.76 221.40,332.63 221.90,332.55 222.40,333.89 222.90,334.17 223.40,333.94 223.90,334.51 224.40,334.87 224.90,335.14 225.40,335.43 225.90,335.05 226.40,336.16 226.90,335.15 227.40,336.32 227.90,336.37 228.40,336.75 228.90,337.40 229.40,337.42 229.90,336.44 230.40,336.38 230.90,337.69 231.40,337.05 231.90,337.68 232.40,338.23 232.90,337.28 233.40,337.23 233.90,338.46 234.40,338.52 234.90,338.54 235.40,338.81 235.90,338.55 236.40,338.40 236.90,339.14 237.40,338.91 237.90,338.74 238.40,339.84 238.90,339.70 239.40,340.04 239.90,339.52 240.40,339.79 240.90,339.75 241.40,339.91 241.90,340.50 242.40,340.16 242.90,340.78 243.40,340.87 243.90,341.73 244.40,340.28 244.90,341.40 245.40,341.05 245.90,341.17 246.40,340.61 246.90,341.14 247.40,341.76 247.90,341.47 248.40,341.62 248.90,341.53 249.40,342.25 249.90,341.79 250.40,340.88 250.90,341.63 251.40,341.12 251.90,340.61 252.40,341.89 252.90,342.79 253.40,342.28 253.90,341.79 254.40,341.95 254.90,342.93 255.40,342.55 255.90,342.55 256.40,342.56 256.90,342.65 257.40,343.05 257.90,342.98 258.40,342.88 258.90,342.36 259.40,343.10 259.90,342.60 260.40,343.45 260.90,342.42 261.40,342.97 261.90,343.07 262.40,342.52 262.90,343.93 263.40,343.84 263.90,343.01 264.40,343.60 264.90,343.46 265.40,342.15 265.90,343.47 266.40,343.36 266.90,343.46 267.40,342.96 267.90,343.36 268.40,343.43 268.90,344.07 269.40,343.71 269.90,343.58 270.40,344.30 270.90,343.39 271.40,343.49 271.90,342.87 272.40,344.41 272.90,344.16 273.40,344.17 273.90,344.08 274.40,343.85 274.90,343.91 275.40,343.72 275.90,343.76 276.40,343.90 276.90,344.57 277.40,344.16 277.90,343.90 278.40,343.69 278.90,343.68 279.40,344.70 279.90,344.22 280.40,344.04 280.90,343.87 281.40,343.54 281.90,344.02 282.40,344.46 282.90,343.91 283.40,343.99 283.90,344.01 284.40,344.17 284.90,343.42 285.40,344.04 285.90,343.77 286.40,344.57 286.90,343.83 287.40,344.45 287.90,344.89 288.40,344.07 288.90,343.95 289.40,344.32 289.90,344.24 290.40,343.81 290.90,344.47 291.40,345.18 291.90,344.16 292.40,344.20 292.90,343.83 293.40,344.45 293.90,343.75 294.40,343.82 294.90,344.90 295.40,343.93 295.90,344.83 296.40,345.03 296.90,344.47 297.40,344.61 297.90,345.25 298.40,344.29 298.90,344.11 299.40,343.78 299.90,344.41 300.40,345.06" fill="none" stroke="#000" stroke-width="1.5" stroke-linejoin="round" />
<polyline points="126.90,430.83 127.40,427.90 127.90,425.94 128.40,424.17 128.90,422.68 129.40,420.68 129.90,419.15 130.40,417.54 130.90,415.69 131.40,414.28 131.90,412.93 132.40,411.38 132.90,410.29 133.40,409.60 133.90,407.76 134.40,406.31 134.90,404.35 135.40,404.16 135.90,402.03 136.40,401.22 136.90,401.23 137.40,400.20 137.90,398.88 138.40,397.27 138.90,397.01 139.40,396.03 139.90,395.81 140.40,395.76 140.90,394.09 141.40,392.91 141.90,392.03 142.40,391.86 142.90,391.15 143.40,390.07 143.90,390.03 144.40,388.87 144.90,389.32 145.40,388.74 145.90,388.22 146.40,387.00 146.90,386.94 147.40,386.17 147.90,385.58 148.40,385.15 148.90,384.28 149.40,383.79 149.90,384.38 150.40,383.53 150.90,383.33 151.40,383.30 151.90,381.70 152.40,381.78 152.90,381.86 153.40,381.62 153.90,380.95 154.40,381.26 154.90,380.58 155.40,379.64 155.90,379.47 156.40,379.97 156.90,379.54 157.40,378.20 157.90,379.40 158.40,378.80 158.90,378.89 159.40,377.86 159.90,377.66 160.40,377.05 160.90,378.47 161.40,377.03 161.90,377.60 162.40,376.38 162.90,376.53 163.40,375.50 163.90,375.88 164.40,376.29 164.90,375.09 165.40,375.95 165.90,375.43 166.40,374.62 166.90,374.69 167.40,374.53 167.90,374.54 168.40,374.15 168.90,373.84 169.40,373.91 169.90,373.42 170.40,373.14 170.90,373.54 171.40,373.81 171.90,372.56 172.40,373.10 172.90,372.66 173.40,372.36 173.90,373.04 174.40,372.27 174.90,373.04 175.40,371.87 175.90,372.25 176.40,371.84 176.90,371.46 177.40,371.93 177.90,371.46 178.40,371.67 178.90,371.25 179.40,370.65 179.90,370.96 180.40,370.90 180.90,371.18 181.40,370.21 181.90,370.48 182.40,369.60 182.90,370.54 183.40,369.64 183.90,369.19 184.40,369.85 184.90,370.26 185.40,368.95 185.90,369.03 186.40,369.07 186.90,368.77 187.40,369.34 187.90,368.69 188.40,368.61 188.90,369.08 189.40,368.36 189.90,368.78 190.40,368.04 190.90,367.81 191.40,367.42 191.90,368.97 192.40,367.88 192.90,368.02 193.40,367.79 193.90,367.76 194.40,367.60 194.90,368.33 195.40,366.89 195.90,366.55 196.40,366.68 196.90,366.43 197.40,367.26 197.90,367.18 198.40,366.27 198.90,365.97 199.40,366.33 199.90,367.01 200.40,365.01 200.90,366.41 201.40,365.58 201.90,366.43 202.40,365.37 202.90,365.62 203.40,364.96 203.90,365.10 204.40,366.05 204.90,365.70 205.40,365.04 205.90,364.73 206.40,364.16 206.90,364.73 207.40,364.79 207.90,364.66 208.40,364.55 208.90,363.99 209.40,364.36 209.90,364.27 210.40,364.76 210.90,364.92 211.40,363.92 211.90,363.53 212.40,363.74 212.90,363.63 213.40,363.75 213.90,364.23 214.40,363.96 214.90,364.87 215.40,364.71 215.90,365.03 216.40,364.99 216.90,364.89 217.40,364.94 217.90,365.41 218.40,365.41 218.90,365.90 219.40,365.92 219.90,365.44 220.40,366.21 220.90,365.70 221.40,366.15 221.90,366.41 222.40,365.72 222.90,366.81 223.40,366.95 223.90,366.91 224.40,366.90 224.90,367.02 225.40,366.85 225.90,367.26 226.40,367.23 226.90,367.61 227.40,367.12 227.90,367.85 228.40,367.90 228.90,367.85 229.40,367.80 229.90,368.32 230.40,367.40 230.90,368.43 231.40,368.41 231.90,368.50 232.40,368.61 232.90,368.21 233.40,368.46 233.90,368.93 234.40,368.90 234.90,368.86 235.40,368.14 235.90,369.12 236.40,369.47 236.90,369.45 237.40,369.15 237.90,368.40 238.40,369.58 238.90,369.14 239.40,368.11 239.90,369.47 240.40,368.68 240.90,368.81 241.40,369.15 241.90,370.05 242.40,369.36 242.90,369.69 243.40,370.39 243.90,370.36 244.40,369.64 244.90,369.61 245.40,369.19 245.90,369.48 246.40,370.02 246.90,370.04 247.40,369.94 247.90,370.37 248.40,369.61 248.90,369.96 249.40,370.34 249.90,370.31 250.40,370.56 250.90,370.28 251.40,369.99 251.90,370.32 252.40,369.73 252.90,369.47 253.40,370.49 253.90,370.23 254.40,370.41 254.90,369.53 255.40,370.16 255.90,370.07 256.40,369.97 256.90,369.37 257.40,370.25 257.90,370.83 258.40,370.61 258.90,370.19 259.40,370.47 259.90,370.84 260.40,369.27 260.90,370.47 261.40,370.79 261.90,370.87 262.40,371.34 262.90,371.10 263.40,370.75 263.90,370.76 264.40,370.99 264.90,370.41 265.40,370.65 265.90,371.08 266.40,371.57 266.90,370.63 267.40,370.69 267.90,370.81 268.40,371.34 268.90,370.73 269.40,371.42 269.90,370.33 270.40,370.70 270.90,370.70 271.40,371.15 271.90,371.28 272.40,370.14 272.90,370.42 273.40,370.99 273.90,370.55 274.40,370.17 274.90,371.33 275.40,371.09 275.90,371.10 276.40,370.67 276.90,371.36 277.40,370.79 277.90,371.40 278.40,370.51 278.90,370.54 279.40,371.02 279.90,370.62 280.40,371.25 280.90,371.07 281.40,370.54 281.90,370.99 282.40,370.81 282.90,371.38 283.40,370.69 283.90,370.78 284.40,371.53 284.90,372.00 285.40,371.90 285.90,371.03 286.40,371.10 286.90,371.70 287.40,370.96 287.90,370.58 288.40,371.08 288.90,371.23 289.40,370.66 289.90,370.30 290.40,370.39 290.90,371.34 291.40,370.71 291.90,370.99 292.40,371.15 292.90,371.34 293.40,370.91 293.90,371.29 294.40,370.67 294.90,370.91 295.40,370.61 295.90,371.59 296.40,371.07 296.90,370.75 297.40,370.93 297.90,370.99 298.40,371.41 298.90,370.37 299.40,370.63 299.90,370.93 300.40,372.24" fill="none" stroke="#000" stroke-width="1.5" stroke-linejoin="round" />
<polyline points="126.90,430.83 127.40,428.94 127.90,427.99 128.40,427.34 128.90,425.13 129.40,423.95 129.90,423.60 130.40,422.27 130.90,421.40 131.40,419.97 131.90,420.21 132.40,419.30 132.90,418.01 133.40,417.33 133.90,415.40 134.40,415.93 134.90,414.92 135.40,414.59 135.90,414.11 136.40,413.09 136.90,411.94 137.40,412.35 137.90,411.36 138.40,411.06 138.90,410.48 139.40,410.15 139.90,408.84 140.40,410.01 140.90,409.17 141.40,409.17 141.90,409.18 142.40,407.94 142.90,406.76 143.40,406.82 143.90,406.35 144.40,406.34 144.90,406.28 145.40,405.03 145.90,405.79 146.40,404.66 146.90,405.18 147.40,404.71 147.90,404.34 148.40,404.18 148.90,403.70 149.40,403.41 149.90,402.67 150.40,403.16 150.90,403.76 151.40,403.58 151.90,403.04 152.40,402.53 152.90,401.68 153.40,402.40 153.90,401.50 154.40,401.27 154.90,400.96 155.40,400.91 155.90,400.46 156.40,400.41 156.90,399.75 157.40,399.87 157.90,400.86 158.40,399.60 158.90,399.33 159.40,399.48 159.90,399.37 160.40,398.36 160.90,398.58 161.40,398.89 161.90,398.42 162.40,398.17 162.90,398.63 163.40,397.45 163.90,397.61 164.40,397.17 164.90,397.90 165.40,396.18 165.90,396.58 166.40,396.48 166.90,396.85 167.40,396.65 167.90,396.84 168.40,395.35 168.90,396.23 169.40,395.60 169.90,395.27 170.40,395.66 170.90,394.85 171.40,394.17 171.90,394.79 172.40,394.13 172.90,394.36 173.40,394.67 173.90,394.50 174.40,394.92 174.90,393.97 175.40,393.23 175.90,393.44 176.40,393.22 176.90,392.95 177.40,393.55 177.90,392.93 178.40,392.19 178.90,393.26 179.40,392.76 179.90,392.84 180.40,392.59 180.90,392.70 181.40,392.30 181.90,392.71 182.40,392.22 182.90,392.07 183.40,391.96 183.90,390.99 184.40,391.45 184.90,391.28 185.40,391.37 185.90,390.54 186.40,391.77 186.90,390.96 187.40,390.25 187.90,389.91 188.40,390.44 188.90,390.41 189.40,390.01 189.90,390.26 190.40,389.82 190.90,390.25 191.40,389.56 191.90,389.76 192.40,390.11 192.90,390.72 193.40,389.00 193.90,389.14 194.40,388.86 194.90,389.49 195.40,388.52 195.90,388.71 196.40,388.81 196.90,388.29 197.40,388.20 197.90,388.31 198.40,387.48 198.90,387.68 199.40,388.05 199.90,388.20 200.40,387.96 200.90,387.15 201.40,387.64 201.90,388.12 202.40,387.91 202.90,387.54 203.40,387.08 203.90,387.67 204.40,387.04 204.90,386.69 205.40,386.76 205.90,387.69 206.40,387.05 206.90,387.38 207.40,386.56 207.90,387.11 208.40,386.34 208.90,386.45 209.40,387.56 209.90,386.71 210.40,386.05 210.90,386.16 211.40,386.26 211.90,386.58 212.40,385.74 212.90,385.24 213.40,386.00 213.90,386.23 214.40,386.36 214.90,387.00 215.40,386.64 215.90,386.95 216.40,386.18 216.90,387.14 217.40,387.78 217.90,387.26 218.40,387.11 218.90,387.14 219.40,387.95 219.90,386.80 220.40,387.23 220.90,387.56 221.40,387.75 221.90,387.29 222.40,387.68 222.90,387.48 223.40,387.72 223.90,387.67 224.40,387.27 224.90,387.83 225.40,388.29 225.90,387.51 226.40,387.89 226.90,388.35 227.40,387.62 227.90,388.23 228.40,387.72 228.90,388.75 229.40,389.33 229.90,389.24 230.40,388.27 230.90,388.75 231.40,388.51 231.90,388.54 232.40,389.23 232.90,387.98 233.40,389.08 233.90,388.62 234.40,389.31 234.90,388.79 235.40,388.44 235.90,388.90 236.40,389.14 236.90,388.85 237.40,389.09 237.90,388.66 238.40,387.97 238.90,389.36 239.40,389.29 239.90,389.07 240.40,389.06 240.90,389.52 241.40,388.88 241.90,388.79 242.40,389.04 242.90,389.69 243.40,388.55 243.90,389.73 244.40,388.93 244.90,388.74 245.40,389.82 245.90,389.23 246.40,388.71 246.90,389.15 247.40,389.75 247.90,389.89 248.40,389.18 248.90,389.57 249.40,389.72 249.90,389.13 250.40,389.59 250.90,389.43 251.40,389.22 251.90,389.26 252.40,389.52 252.90,389.52 253.40,389.26 253.90,389.34 254.40,390.05 254.90,389.65 255.40,389.97 255.90,390.12 256.40,389.86 256.90,390.63 257.40,389.24 257.90,389.99 258.40,389.49 258.90,390.48 259.40,390.42 259.90,388.79 260.40,389.24 260.90,389.98 261.40,390.05 261.90,390.03 262.40,389.68 262.90,389.92 263.40,390.02 263.90,389.70 264.40,390.21 264.90,388.73 265.40,390.04 265.90,389.30 266.40,390.20 266.90,389.68 267.40,389.39 267.90,389.96 268.40,389.39 268.90,389.39 269.40,389.11 269.90,389.81 270.40,390.05 270.90,390.29 271.40,389.77 271.90,390.31 272.40,389.85 272.90,389.81 273.40,390.11 273.90,390.34 274.40,389.71 274.90,389.76 275.40,389.80 275.90,389.92 276.40,389.48 276.90,390.35 277.40,389.71 277.90,390.10 278.40,389.53 278.90,390.06 279.40,390.08 279.90,389.72 280.40,390.82 280.90,390.08 281.40,390.72 281.90,390.35 282.40,389.63 282.90,389.76 283.40,390.13 283.90,389.96 284.40,389.96 284.90,389.81 285.40,389.13 285.90,389.84 286.40,388.95 286.90,390.12 287.40,389.63 287.90,389.63 288.40,389.86 288.90,390.08 289.40,389.32 289.90,389.18 290.40,389.49 290.90,389.05 291.40,389.54 291.90,390.69 292.40,389.50 292.90,390.27 293.40,389.36 293.90,390.11 294.40,389.84 294.90,389.96 295.40,390.24 295.90,390.78 296.40,390.08 296.90,390.05 297.40,389.55 297.90,390.26 298.40,389.88 298.90,390.37 299.40,389.98 299.90,390.78 300.40,389.11" fill="none" stroke="#000" stroke-width="1.5" stroke-linejoin="round" />
<polyline points="126.90,430.27 127.40,428.76 127.90,427.37 128.40,426.70 128.90,426.57 129.40,425.74 129.90,426.10 130.40,426.83 130.90,425.94 131.40,424.63 131.90,424.44 132.40,424.35 132.90,424.70 133.40,423.59 133.90,423.36 134.40,423.79 134.90,423.50 135.40,422.67 135.90,422.07 136.40,421.60 136.90,421.72 137.40,420.77 137.90,421.85 138.40,420.98 138.90,421.22 139.40,421.60 139.90,421.04 140.40,419.75 140.90,420.41 141.40,420.30 141.90,419.21 142.40,418.88 142.90,419.03 143.40,418.13 143.90,419.29 144.40,417.32 144.90,417.69 145.40,417.85 145.90,417.65 146.40,417.61 146.90,417.45 147.40,417.02 147.90,417.43 148.40,415.75 148.90,416.51 149.40,415.99 149.90,416.17 150.40,416.02 150.90,415.32 151.40,415.25 151.90,415.71 152.40,415.32 152.90,414.67 153.40,415.72 153.90,415.66 154.40,413.78 154.90,414.40 155.40,415.22 155.90,414.28 156.40,413.85 156.90,413.49 157.40,413.18 157.90,413.16 158.40,412.85 158.90,413.27 159.40,412.60 159.90,412.42 160.40,411.93 160.90,412.29 161.40,411.76 161.90,411.93 162.40,412.34 162.90,411.89 163.40,411.80 163.90,411.60 164.40,411.32 164.90,411.10 165.40,410.88 165.90,411.22 166.40,410.26 166.90,411.22 167.40,410.50 167.90,410.02 168.40,410.00 168.90,409.79 169.40,410.04 169.90,409.52 170.40,410.24 170.90,409.25 171.40,408.46 171.90,409.04 172.40,408.34 172.90,409.11 173.40,409.49 173.90,409.20 174.40,408.19 174.90,408.34 175.40,409.37 175.90,408.61 176.40,408.36 176.90,408.73 177.40,409.25 177.90,408.63 178.40,408.01 178.90,408.00 179.40,408.02 179.90,407.37 180.40,407.07 180.90,407.47 181.40,406.93 181.90,407.23 182.40,407.21 182.90,408.13 183.40,406.60 183.90,406.84 184.40,406.73 184.90,406.91 185.40,407.10 185.90,406.32 186.40,406.09 186.90,405.64 187.40,405.88 187.90,406.45 188.40,406.15 188.90,405.59 189.40,405.80 189.90,405.91 190.40,406.04 190.90,405.47 191.40,405.55 191.90,404.77 192.40,405.00 192.90,406.17 193.40,404.38 193.90,405.15 194.40,405.33 194.90,404.99 195.40,404.72 195.90,404.99 196.40,404.95 196.90,404.85 197.40,403.98 197.90,404.69 198.40,404.31 198.90,404.38 199.40,404.67 199.90,404.79 200.40,404.84 200.90,404.16 201.40,404.74 201.90,404.79 202.40,404.71 202.90,404.77 203.40,404.02 203.90,403.95 204.40,404.34 204.90,403.30 205.40,403.96 205.90,403.57 206.40,403.59 206.90,402.92 207.40,403.25 207.90,403.59 208.40,403.95 208.90,403.94 209.40,403.41 209.90,403.31 210.40,402.97 210.90,403.48 211.40,403.14 211.90,403.48 212.40,403.95 212.90,403.20 213.40,402.63 213.90,403.00 214.40,402.81 214.90,403.00 215.40,404.21 215.90,403.80 216.40,403.08 216.90,404.13 217.40,404.47 217.90,403.81 218.40,403.74 218.90,403.95 219.40,404.30 219.90,404.52 220.40,404.82 220.90,404.89 221.40,404.94 221.90,405.07 222.40,404.81 222.90,403.88 223.40,404.56 223.90,404.81 224.40,404.54 224.90,405.17 225.40,404.65 225.90,404.44 226.40,405.55 226.90,405.24 227.40,405.08 227.90,405.44 228.40,405.54 228.90,405.26 229.40,404.04 229.90,404.87 230.40,405.01 230.90,404.81 231.40,405.37 231.90,405.85 232.40,405.13 232.90,404.87 233.40,406.33 233.90,405.24 234.40,404.92 234.90,405.61 235.40,405.72 235.90,405.24 236.40,405.94 236.90,405.39 237.40,405.22 237.90,405.74 238.40,406.03 238.90,405.42 239.40,405.88 239.90,405.71 240.40,407.05 240.90,405.48 241.40,406.44 241.90,405.82 242.40,405.80 242.90,406.20 243.40,406.30 243.90,406.49 244.40,406.08 244.90,405.68 245.40,405.73 245.90,406.21 246.40,406.26 246.90,406.65 247.40,406.22 247.90,406.52 248.40,406.74 248.90,406.15 249.40,405.42 249.90,405.57 250.40,405.47 250.90,406.85 251.40,405.76 251.90,406.71 252.40,406.43 252.90,406.95 253.40,406.64 253.90,406.16 254.40,406.12 254.90,406.26 255.40,406.31 255.90,406.01 256.40,406.24 256.90,406.99 257.40,405.51 257.90,406.40 258.40,405.88 258.90,406.38 259.40,406.69 259.90,406.29 260.40,406.67 260.90,405.62 261.40,406.84 261.90,406.08 262.40,406.63 262.90,406.44 263.40,405.21 263.90,406.04 264.40,406.48 264.90,407.09 265.40,406.52 265.90,406.52 266.40,405.77 266.90,407.06 267.40,407.23 267.90,406.44 268.40,406.33 268.90,405.71 269.40,406.84 269.90,407.66 270.40,406.77 270.90,407.02 271.40,406.70 271.90,406.02 272.40,407.07 272.90,405.92 273.40,406.38 273.90,406.61 274.40,406.88 274.90,406.68 275.40,406.67 275.90,406.15 276.40,405.92 276.90,406.53 277.40,406.19 277.90,405.92 278.40,405.94 278.90,406.30 279.40,405.69 279.90,405.92 280.40,405.79 280.90,406.61 281.40,406.72 281.90,407.44 282.40,405.86 282.90,406.23 283.40,406.95 283.90,406.45 284.40,406.40 284.90,407.32 285.40,406.40 285.90,406.03 286.40,405.96 286.90,406.71 287.40,406.70 287.90,405.95 288.40,406.12 288.90,406.81 289.40,406.83 289.90,406.28 290.40,406.85 290.90,406.83 291.40,405.77 291.90,406.44 292.40,406.77 292.90,406.32 293.40,405.62 293.90,406.46 294.40,406.92 294.90,407.30 295.40,405.60 295.90,407.76 296.40,406.08 296.90,407.02 297.40,407.15 297.90,407.04 298.40,406.66 298.90,406.07 299.40,406.88 299.90,406.28 300.40,405.46" fill="none" stroke="#000" stroke-width="1.5" stroke-linejoin="round" />
<polyline points="83.60,432.77 84.10,431.80 84.60,432.28 85.10,431.04 85.60,432.09 86.10,432.13 86.60,432.10 87.10,431.37 87.60,430.82 88.10,431.26 88.60,430.34 89.10,430.54 89.60,431.33 90.10,430.83 90.60,431.18 91.10,431.19 91.60,432.09 92.10,431.79 92.60,431.17 93.10,431.71 93.60,430.80 94.10,430.98 94.60,431.53 95.10,430.54 95.60,430.96 96.10,430.47 96.60,431.10 97.10,431.77 97.60,430.68 98.10,431.10 98.60,430.58 99.10,430.45 99.60,430.39 100.10,431.58 100.60,431.97 101.10,431.11 101.60,430.55 102.10,431.18 102.60,430.69 103.10,431.19 103.60,430.94 104.10,430.92 104.60,431.05 105.10,430.49 105.60,430.56 106.10,429.95 106.60,430.50 107.10,430.05 107.60,430.60 108.10,430.22 108.60,430.68 109.10,430.82 109.60,429.96 110.10,430.22 110.60,430.14 111.10,430.88 111.60,431.30 112.10,430.90 112.60,430.34 113.10,431.14 113.60,429.78 114.10,431.12 114.60,430.13 115.10,429.16 115.60,431.58 116.10,431.08 116.60,429.89 117.10,430.42 117.60,430.23 118.10,430.35 118.60,429.62 119.10,429.96 119.60,430.46 120.10,430.34 120.60,430.76 121.10,430.24 121.60,431.24 122.10,429.84 122.60,430.27 123.10,429.27 123.60,429.55 124.10,430.69 124.60,429.66 125.10,430.30 125.60,430.02 126.10,429.56 126.60,429.85 127.10,429.77 127.60,429.77 128.10,430.32 128.60,430.27 129.10,429.70 129.60,429.55 130.10,430.08 130.60,429.90 131.10,430.39 131.60,431.12 132.10,430.30 132.60,429.89 133.10,429.82 133.60,429.51 134.10,429.48 134.60,429.42 135.10,429.69 135.60,429.67 136.10,430.19 136.60,429.66 137.10,429.75 137.60,429.28 138.10,430.56 138.60,430.04 139.10,430.61 139.60,430.15 140.10,430.46 140.60,429.67 141.10,430.09 141.60,430.98 142.10,429.20 142.60,430.28 143.10,430.50 143.60,429.92 144.10,430.07 144.60,430.29 145.10,429.40 145.60,429.89 146.10,429.29 146.60,429.37 147.10,429.39 147.60,429.60 148.10,429.73 148.60,429.86 149.10,428.99 149.60,430.55 150.10,430.16 150.60,429.95 151.10,429.44 151.60,429.56 152.10,429.85 152.60,429.78 153.10,428.80 153.60,429.91 154.10,430.91 154.60,428.70 155.10,430.00 155.60,429.71 156.10,429.48 156.60,430.15 157.10,428.97 157.60,429.58 158.10,430.17 158.60,429.40 159.10,429.29 159.60,429.53 160.10,429.26 160.60,430.17 161.10,429.03 161.60,429.84 162.10,428.85 162.60,429.73 163.10,429.37 163.60,428.21 164.10,429.40 164.60,428.90 165.10,429.18 165.60,430.09 166.10,428.85 166.60,428.87 167.10,430.02 167.60,429.40 168.10,430.05 168.60,429.48 169.10,428.91 169.60,429.28 170.10,429.87 170.60,429.73 171.10,429.29 171.60,429.30 172.10,429.22 172.60,429.00 173.10,430.15 173.60,429.25 174.10,428.72 174.60,429.01 175.10,429.56 175.60,429.51 176.10,429.14 176.60,428.89 177.10,429.20 177.60,428.41 178.10,428.57 178.60,429.54 179.10,428.94 179.60,429.32 180.10,429.71 180.60,429.43 181.10,429.14 181.60,430.10 182.10,429.42 182.60,428.94 183.10,429.43 183.60,429.27 184.10,428.68 184.60,429.10 185.10,428.98 185.60,428.14 186.10,428.97 186.60,428.91 187.10,428.83 187.60,428.26 188.10,428.85 188.60,428.99 189.10,429.04 189.60,428.46 190.10,429.27 190.60,428.41 191.10,428.86 191.60,429.56 192.10,428.63 192.60,428.70 193.10,429.43 193.60,428.75 194.10,428.78 194.60,429.01 195.10,429.39 195.60,427.87 196.10,428.50 196.60,428.41 197.10,428.37 197.60,428.46 198.10,428.46 198.60,428.98 199.10,428.43 199.60,428.88 200.10,429.00 200.60,428.47 201.10,428.86 201.60,429.55 202.10,428.94 202.60,428.49 203.10,428.74 203.60,428.34 204.10,428.88 204.60,429.14 205.10,428.36 205.60,428.63 206.10,429.23 206.60,428.49 207.10,428.79 207.60,428.23 208.10,428.31 208.60,428.45 209.10,429.65 209.60,428.48 210.10,428.42 210.60,428.40 211.10,428.57 211.60,428.93 212.10,428.71 212.60,429.54 213.10,428.71 213.60,429.25 214.10,428.72 214.60,428.86 215.10,427.93 215.60,428.51 216.10,428.53 216.60,428.44 217.10,427.58 217.60,428.93 218.10,428.35 218.60,428.32 219.10,428.40 219.60,428.40 220.10,428.68 220.60,427.92 221.10,428.06 221.60,428.60 222.10,428.53 222.60,428.29 223.10,428.19 223.60,428.06 224.10,428.41 224.60,428.96 225.10,427.94 225.60,429.09 226.10,428.78 226.60,428.19 227.10,428.74 227.60,427.72 228.10,427.59 228.60,427.78 229.10,428.17 229.60,428.20 230.10,428.10 230.60,428.37 231.10,427.36 231.60,428.53 232.10,427.66 232.60,428.00 233.10,428.10 233.60,427.76 234.10,427.65 234.60,427.81 235.10,428.25 235.60,428.51 236.10,428.49 236.60,427.78 237.10,427.87 237.60,427.80 238.10,428.41 238.60,427.28 239.10,428.75 239.60,427.96 240.10,427.82 240.60,428.32 241.10,428.62 241.60,428.30 242.10,428.62 242.60,428.19 243.10,428.68 243.60,428.68 244.10,428.06 244.60,428.75 245.10,428.17 245.60,428.12 246.10,427.66 246.60,427.94 247.10,428.41 247.60,427.46 248.10,428.34 248.60,428.19 249.10,428.15 249.60,427.03 250.10,427.97 250.60,428.30 251.10,427.65 251.60,428.03 252.10,426.91 252.60,428.27 253.10,427.67 253.60,428.35 254.10,427.12 254.60,428.25 255.10,427.83 255.60,428.29 256.10,427.50 256.60,427.63 257.10,428.91 257.60,427.52 258.10,427.57 258.60,427.75 259.10,427.41 259.60,428.40 260.10,428.63 260.60,427.53 261.10,427.06 261.60,428.35 262.10,428.32 262.60,428.18 263.10,428.32 263.60,427.40 264.10,427.71 264.60,427.16 265.10,427.13 265.60,428.20 266.10,427.45 266.60,428.77 267.10,427.77 267.60,427.44 268.10,428.08 268.60,428.53 269.10,427.93 269.60,427.15 270.10,427.86 270.60,428.30 271.10,427.45 271.60,427.32 272.10,428.12 272.60,427.71 273.10,427.15 273.60,427.46 274.10,427.29 274.60,427.75 275.10,427.66 275.60,428.12 276.10,427.91 276.60,426.88 277.10,427.76 277.60,427.97 278.10,427.77 278.60,428.02 279.10,427.30 279.60,427.11 280.10,427.95 280.60,427.04 281.10,426.54 281.60,427.97 282.10,427.17 282.60,427.35 283.10,426.85 283.60,426.88 284.10,426.94 284.60,427.29 285.10,427.61 285.60,426.41 286.10,427.77 286.60,426.89 287.10,426.94 287.60,427.71 288.10,427.37 288.60,426.70 289.10,428.21 289.60,426.99 290.10,427.48 290.60,427.45 291.10,427.99 291.60,427.14 292.10,427.79 292.60,426.99 293.10,427.82 293.60,426.97 294.10,427.14 294.60,428.15 295.10,427.43 295.60,427.33 296.10,428.28 296.60,427.43 297.10,426.89 297.60,427.58 298.10,426.71 298.60,427.74 299.10,427.77 299.60,426.96 300.10,426.92" fill="none" stroke="#000" stroke-width="1.5" stroke-linejoin="round" />
<polyline points="83.60,431.69 84.10,431.58 84.60,431.06 85.10,431.81 85.60,430.49 86.10,431.27 86.60,431.26 87.10,431.30 87.60,431.57 88.10,430.78 88.60,431.66 89.10,431.26 89.60,431.00 90.10,430.62 90.60,430.69 91.10,431.43 91.60,430.75 92.10,431.24 92.60,431.72 93.10,431.68 93.60,431.92 94.10,430.97 94.60,430.55 95.10,431.58 95.60,431.20 96.10,431.58 96.60,431.01 97.10,431.57 97.60,431.38 98.10,431.29 98.60,431.16 99.10,431.08 99.60,430.98 100.10,430.95 100.60,431.31 101.10,430.54 101.60,431.64 102.10,430.69 102.60,431.22 103.10,430.65 103.60,430.55 104.10,431.67 104.60,430.48 105.10,429.97 105.60,430.23 106.10,430.40 106.60,431.62 107.10,430.62 107.60,430.96 108.10,429.97 108.60,430.62 109.10,430.76 109.60,431.30 110.10,430.03 110.60,430.65 111.10,430.48 111.60,429.80 112.10,430.27 112.60,430.13 113.10,429.07 113.60,430.51 114.10,430.46 114.60,429.95 115.10,429.48 115.60,430.86 116.10,430.23 116.60,430.58 117.10,430.76 117.60,429.77 118.10,430.41 118.60,429.86 119.10,429.93 119.60,429.89 120.10,429.91 120.60,430.45 121.10,429.93 121.60,429.77 122.10,429.68 122.60,429.97 123.10,429.33 123.60,429.50 124.10,429.70 124.60,429.42 125.10,429.62 125.60,429.35 126.10,430.64 126.60,430.28 127.10,429.82" fill="none" stroke="#000" stroke-width="1.3" stroke-linejoin="round" />
<polyline points="83.60,432.17 84.10,433.27 84.60,432.32 85.10,432.09 85.60,432.26 86.10,432.24 86.60,432.77 87.10,432.03 87.60,433.06 88.10,431.55 88.60,432.32 89.10,431.45 89.60,432.83 90.10,431.73 90.60,431.85 91.10,432.32 91.60,432.46 92.10,431.25 92.60,431.61 93.10,431.06 93.60,431.81 94.10,431.66 94.60,431.52 95.10,431.33 95.60,431.45 96.10,431.25 96.60,431.86 97.10,432.33 97.60,430.59 98.10,431.47 98.60,431.30 99.10,431.73 99.60,430.99 100.10,431.36 100.60,430.89 101.10,431.74 101.60,431.42 102.10,431.26 102.60,431.51 103.10,431.18 103.60,430.50 104.10,431.55 104.60,431.37 105.10,431.13 105.60,431.68 106.10,431.77 106.60,430.59 107.10,430.72 107.60,431.87 108.10,431.78 108.60,430.68 109.10,430.43 109.60,430.68 110.10,430.73 110.60,430.16 111.10,430.95 111.60,430.27 112.10,430.28 112.60,431.32 113.10,430.50 113.60,430.78 114.10,431.11 114.60,431.17 115.10,430.58 115.60,430.74 116.10,430.29 116.60,431.55 117.10,430.98 117.60,430.08 118.10,430.61 118.60,430.94 119.10,430.80 119.60,431.45 120.10,431.20 120.60,430.22 121.10,430.42 121.60,429.80 122.10,430.55 122.60,430.47 123.10,431.73 123.60,430.40 124.10,429.28 124.60,429.97 125.10,430.34 125.60,429.63 126.10,429.80 126.60,430.03 127.10,430.36" fill="none" stroke="#000" stroke-width="1.3" stroke-linejoin="round" />
<polyline points="83.60,432.72 84.10,432.33 84.60,433.15 85.10,432.46 85.60,432.46 86.10,431.99 86.60,432.27 87.10,432.96 87.60,431.81 88.10,432.56 88.60,432.93 89.10,432.36 89.60,432.64 90.10,431.94 90.60,433.13 91.10,433.00 91.60,432.55 92.10,431.53 92.60,431.86 93.10,432.85 93.60,433.19 94.10,432.46 94.60,432.92 95.10,431.96 95.60,432.15 96.10,432.22 96.60,432.41 97.10,431.41 97.60,432.62 98.10,432.79 98.60,431.53 99.10,431.41 99.60,432.24 100.10,431.71 100.60,430.83 101.10,432.40 101.60,432.05 102.10,431.71 102.60,432.98 103.10,431.97 103.60,431.50 104.10,431.90 104.60,431.31 105.10,431.43 105.60,431.98 106.10,431.48 106.60,431.51 107.10,432.55 107.60,432.12 108.10,432.07 108.60,431.91 109.10,431.86 109.60,432.33 110.10,431.57 110.60,432.48 111.10,431.05 111.60,431.38 112.10,430.79 112.60,431.29 113.10,431.70 113.60,432.14 114.10,431.06 114.60,431.37 115.10,431.17 115.60,430.95 116.10,430.70 116.60,431.31 117.10,430.39 117.60,431.28 118.10,431.22 118.60,430.85 119.10,430.65 119.60,430.45 120.10,432.05 120.60,430.42 121.10,431.85 121.60,431.34 122.10,430.84 122.60,430.42 123.10,431.50 123.60,431.82 124.10,430.46 124.60,430.76 125.10,431.41 125.60,431.03 126.10,431.84 126.60,430.53 127.10,431.06" fill="none" stroke="#000" stroke-width="1.3" stroke-linejoin="round" />
<polyline points="83.60,432.77 84.10,434.42 84.60,432.99 85.10,432.23 85.60,433.24 86.10,433.21 86.60,434.22 87.10,433.07 87.60,433.21 88.10,433.49 88.60,433.96 89.10,433.11 89.60,433.64 90.10,433.36 90.60,432.93 91.10,433.09 91.60,433.04 92.10,432.55 92.60,433.59 93.10,432.27 93.60,433.52 94.10,433.39 94.60,432.85 95.10,432.49 95.60,432.73 96.10,433.06 96.60,433.17 97.10,432.92 97.60,433.25 98.10,432.45 98.60,432.82 99.10,431.90 99.60,433.04 100.10,432.71 100.60,432.41 101.10,433.17 101.60,432.91 102.10,431.14 102.60,432.54 103.10,431.77 103.60,433.01 104.10,433.70 104.60,432.17 105.10,432.44 105.60,432.26 106.10,432.54 106.60,432.66 107.10,432.96 107.60,431.80 108.10,433.05 108.60,431.78 109.10,432.36 109.60,432.78 110.10,432.53 110.60,431.68 111.10,431.78 111.60,431.88 112.10,432.06 112.60,432.63 113.10,431.39 113.60,432.25 114.10,432.30 114.60,432.25 115.10,432.18 115.60,432.68 116.10,432.14 116.60,432.30 117.10,432.13 117.60,432.73 118.10,430.86 118.60,432.42 119.10,431.63 119.60,431.60 120.10,431.23 120.60,430.76 121.10,431.48 121.60,431.30 122.10,431.87 122.60,430.86 123.10,432.29 123.60,431.69 124.10,431.41 124.60,431.15 125.10,431.09 125.60,430.90 126.10,431.16 126.60,431.42 127.10,431.30" fill="none" stroke="#000" stroke-width="1.3" stroke-linejoin="round" />
<polyline points="83.60,433.19 84.10,433.74 84.60,433.41 85.10,433.91 85.60,434.74 86.10,434.10 86.60,433.60 87.10,432.93 87.60,433.01 88.10,432.85 88.60,434.03 89.10,433.26 89.60,433.65 90.10,433.29 90.60,433.62 91.10,434.25 91.60,433.19 92.10,433.34 92.60,433.08 93.10,433.90 93.60,432.93 94.10,432.85 94.60,432.70 95.10,432.66 95.60,433.58 96.10,434.61 96.60,432.80 97.10,433.75 97.60,433.38 98.10,432.68 98.60,433.07 99.10,433.07 99.60,432.82 100.10,434.10 100.60,432.16 101.10,433.28 101.60,433.23 102.10,432.76 102.60,433.10 103.10,433.44 103.60,433.05 104.10,433.16 104.60,433.28 105.10,431.89 105.60,433.62 106.10,434.00 106.60,433.33 107.10,433.32 107.60,432.09 108.10,432.71 108.60,432.34 109.10,432.43 109.60,433.18 110.10,432.27 110.60,432.59 111.10,431.68 111.60,432.53 112.10,432.63 112.60,432.21 113.10,432.18 113.60,433.46 114.10,431.89 114.60,431.94 115.10,432.04 115.60,433.02 116.10,433.45 116.60,432.54 117.10,431.99 117.60,432.12 118.10,432.84 118.60,431.83 119.10,432.99 119.60,432.95 120.10,432.25 120.60,432.51 121.10,432.54 121.60,432.92 122.10,431.60 122.60,432.69 123.10,431.89 123.60,431.67 124.10,432.08 124.60,431.90 125.10,431.49 125.60,431.16 126.10,431.47 126.60,432.64 127.10,432.87" fill="none" stroke="#000" stroke-width="1.3" stroke-linejoin="round" />
<line x1="431.80" y1="299.00" x2="431.80" y2="434.40" stroke="#333" stroke-width="1" />
<line x1="427.20" y1="434.40" x2="431.80" y2="434.40" stroke="#333" stroke-width="1" />
<text x="426.60" y="439.40" font-size="14" text-anchor="end" fill="#000" stroke="#000" stroke-width="0.3" >0</text>
<line x1="427.20" y1="403.55" x2="431.80" y2="403.55" stroke="#333" stroke-width="1" />
<text x="426.60" y="408.55" font-size="14" text-anchor="end" fill="#000" stroke="#000" stroke-width="0.3" >25</text>
<line x1="427.20" y1="372.70" x2="431.80" y2="372.70" stroke="#333" stroke-width="1" />
<text x="426.60" y="377.70" font-size="14" text-anchor="end" fill="#000" stroke="#000" stroke-width="0.3" >50</text>
<line x1="427.20" y1="341.85" x2="431.80" y2="341.85" stroke="#333" stroke-width="1" />
<text x="426.60" y="346.85" font-size="14" text-anchor="end" fill="#000" stroke="#000" stroke-width="0.3" >75</text>
<line x1="427.20" y1="311.00" x2="431.80" y2="311.00" stroke="#333" stroke-width="1" />
<text x="426.60" y="316.00" font-size="14" text-anchor="end" fill="#000" stroke="#000" stroke-width="0.3" >100</text>
<text x="380.10" y="365.70" font-size="14.9" text-anchor="middle" fill="#000" stroke="#000" stroke-width="0.3" transform="rotate(-90 380.10 365.70)" >Relative binding</text>
<text x="396.30" y="365.20" font-size="14.9" text-anchor="middle" fill="#000" stroke="#000" stroke-width="0.3" transform="rotate(-90 396.30 365.20)" >(% of sPSGL1)</text>
<rect x="460.50" y="311.50" width="29.00" height="123.00" fill="#afafaf" stroke="#222" stroke-width="1"/>
<line x1="517.10" y1="408.40" x2="517.10" y2="403.20" stroke="#222" stroke-width="1" />
<line x1="510.00" y1="403.20" x2="524.60" y2="403.20" stroke="#222" stroke-width="1" />
<rect x="503.50" y="408.50" width="28.00" height="26.00" fill="#000" stroke="#222" stroke-width="1"/>
<rect x="589.50" y="311.50" width="28.00" height="123.00" fill="#c3c3c3" stroke="#222" stroke-width="1"/>
<line x1="646.30" y1="404.30" x2="646.30" y2="392.80" stroke="#222" stroke-width="1" />
<line x1="639.20" y1="392.80" x2="653.40" y2="392.80" stroke="#222" stroke-width="1" />
<rect x="631.50" y="404.50" width="29.00" height="30.00" fill="#000" stroke="#222" stroke-width="1"/>
<text x="498.50" y="464.20" font-size="14.6" text-anchor="middle" fill="#000" stroke="#000" stroke-width="0.3" >sSiglec-5/C4BP</text>
<text x="627.90" y="464.20" font-size="14.6" text-anchor="middle" fill="#000" stroke="#000" stroke-width="0.3" >P-selectin</text>
<line x1="67.60" y1="546.60" x2="67.60" y2="662.40" stroke="#333" stroke-width="1" />
<line x1="63.60" y1="648.00" x2="67.60" y2="648.00" stroke="#333" stroke-width="1" />
<text x="62.80" y="652.30" font-size="12" text-anchor="end" fill="#000" stroke="#000" stroke-width="0.3" >0.00</text>
<line x1="63.60" y1="620.40" x2="67.60" y2="620.40" stroke="#333" stroke-width="1" />
<text x="62.80" y="624.70" font-size="12" text-anchor="end" fill="#000" stroke="#000" stroke-width="0.3" >0.15</text>
<line x1="63.60" y1="592.80" x2="67.60" y2="592.80" stroke="#333" stroke-width="1" />
<text x="62.80" y="597.10" font-size="12" text-anchor="end" fill="#000" stroke="#000" stroke-width="0.3" >0.30</text>
<line x1="63.60" y1="565.20" x2="67.60" y2="565.20" stroke="#333" stroke-width="1" />
<text x="62.80" y="569.50" font-size="12" text-anchor="end" fill="#000" stroke="#000" stroke-width="0.3" >0.45</text>
<line x1="67.60" y1="648.00" x2="268.50" y2="648.00" stroke="#000" stroke-width="1" stroke-dasharray="1.3,1.3"/>
<line x1="86.10" y1="680.90" x2="268.50" y2="680.90" stroke="#333" stroke-width="1" />
<line x1="86.10" y1="680.90" x2="86.10" y2="684.50" stroke="#333" stroke-width="1" />
<text x="86.10" y="697.20" font-size="12" text-anchor="middle" fill="#000" stroke="#000" stroke-width="0.3" >0</text>
<line x1="139.76" y1="680.90" x2="139.76" y2="684.50" stroke="#333" stroke-width="1" />
<text x="139.76" y="697.20" font-size="12" text-anchor="middle" fill="#000" stroke="#000" stroke-width="0.3" >500</text>
<line x1="193.43" y1="680.90" x2="193.43" y2="684.50" stroke="#333" stroke-width="1" />
<text x="193.43" y="697.20" font-size="12" text-anchor="middle" fill="#000" stroke="#000" stroke-width="0.3" >1000</text>
<line x1="247.09" y1="680.90" x2="247.09" y2="684.50" stroke="#333" stroke-width="1" />
<text x="247.09" y="697.20" font-size="12" text-anchor="middle" fill="#000" stroke="#000" stroke-width="0.3" >1500</text>
<text x="177.30" y="712.40" font-size="12.9" text-anchor="middle" fill="#000" stroke="#000" stroke-width="0.3" >Time (Sec)</text>
<text x="13.00" y="603.60" font-size="12.8" text-anchor="middle" fill="#000" stroke="#000" stroke-width="0.3" transform="rotate(-90 13.00 603.60)" >Response</text>
<text x="28.60" y="603.20" font-size="12.8" text-anchor="middle" fill="#000" stroke="#000" stroke-width="0.3" transform="rotate(-90 28.60 603.20)" >(nm shift)</text>
<text x="167.90" y="539.40" font-size="12.6" text-anchor="middle" fill="#000" stroke="#000" stroke-width="0.3" >sSiglec-5/C4BP</text>
<text x="231.60" y="557.20" font-size="11.7" text-anchor="start" fill="#000" stroke="#000" stroke-width="0.3" font-weight="bold" >mPSGL1</text>
<text x="232.30" y="590.70" font-size="11.7" text-anchor="start" fill="#363636" stroke="#363636" stroke-width="0.3" font-weight="bold" >hPSGL1</text>
<text x="232.30" y="629.20" font-size="11.7" text-anchor="start" fill="#000" stroke="#000" stroke-width="0.3" font-weight="bold" >BSA</text>
<polyline points="86.10,647.72 86.35,646.89 86.60,645.47 86.85,645.51 87.10,648.63 87.35,647.22 87.60,646.49 87.85,651.23 88.10,646.38 88.35,646.36 88.60,645.75 88.85,646.29 89.10,648.93 89.35,646.21 89.60,647.28 89.85,642.06 90.10,647.28 90.35,646.34 90.60,645.92 90.85,648.90 91.10,646.61 91.35,647.57 91.60,645.56 91.85,646.51 92.10,648.46 92.35,650.30 92.60,646.51 92.85,647.57 93.10,643.63 93.35,645.24 93.60,650.43 93.85,645.52 94.10,647.81 94.35,647.69 94.60,645.72 94.85,647.06 95.10,645.20 95.35,647.14 95.60,646.52 95.85,646.52 96.10,648.43 96.35,645.84 96.60,645.64 96.85,643.22 97.10,644.92 97.35,646.66 97.60,647.64 97.85,647.91 98.10,645.36 98.35,646.45 98.60,651.39 98.85,649.22 99.10,646.25 99.35,645.66 99.60,647.02 99.85,644.67 100.10,649.51 100.35,648.38 100.60,648.79 100.85,647.26 101.10,643.71 101.35,643.85 101.60,644.85 101.85,647.09 102.10,645.60 102.35,647.50 102.60,645.71 102.85,646.71 103.10,647.94 103.35,642.97 103.60,647.06 103.85,646.91 104.10,648.34 104.35,647.50 104.60,647.24 104.85,648.21 105.10,648.34 105.35,646.96 105.60,646.56 105.85,648.53 106.10,646.63 106.35,643.50 106.60,645.21 106.85,651.94 107.10,646.52 107.35,646.79 107.60,646.25 107.85,645.39 108.10,646.13 108.35,644.42 108.60,647.08 108.85,647.65 109.10,647.52 109.35,647.72 109.60,647.25 109.85,646.74 110.10,648.43 110.35,646.47 110.60,645.60 110.85,646.74 111.10,646.74 111.35,647.46 111.60,650.55 111.85,649.41 112.10,643.49 112.35,647.94 112.60,646.95 112.85,646.59 113.10,645.11 113.35,645.87 113.60,643.14 113.85,644.76 114.10,648.66 114.35,647.17 114.60,645.64 114.85,647.74 115.10,647.13 115.35,647.20 115.60,647.34 115.85,648.13 116.10,647.63 116.35,643.42 116.60,647.40 116.85,645.92 117.10,645.82 117.35,647.95 117.60,647.31 117.85,645.54 118.10,647.75 118.35,646.30 118.60,647.71 118.85,644.43 119.10,644.22 119.35,643.61 119.60,645.72 119.85,641.17 120.10,643.36 120.35,642.90 120.60,641.89 120.85,642.38 121.10,643.18 121.35,641.78 121.60,644.83 121.85,645.55 122.10,645.66 122.35,644.98 122.60,644.74 122.85,645.83 123.10,642.46 123.35,642.62 123.60,648.38 123.85,640.22 124.10,645.30 124.35,642.27 124.60,645.54 124.85,644.50 125.10,638.75 125.35,642.58 125.60,646.21 125.85,645.25 126.10,641.53 126.35,642.55 126.60,644.17 126.85,638.97 127.10,641.40 127.35,640.26 127.60,643.54 127.85,642.77 128.10,647.12 128.35,644.67 128.60,646.33 128.85,642.93 129.10,643.03 129.35,641.91 129.60,645.83 129.85,643.64 130.10,643.54 130.35,642.34 130.60,642.25 130.85,645.23 131.10,645.19 131.35,643.93 131.60,638.14 131.85,642.88 132.10,641.99 132.35,642.94 132.60,644.80 132.85,641.60 133.10,642.10 133.35,640.81 133.60,642.85 133.85,642.23 134.10,642.92 134.35,643.70 134.60,644.31 134.85,642.11 135.10,642.46 135.35,643.57 135.60,643.26 135.85,644.52 136.10,640.67 136.35,647.32 136.60,640.87 136.85,643.13 137.10,643.20 137.35,643.84 137.60,642.59 137.85,643.50 138.10,645.18 138.35,647.64 138.60,643.38 138.85,642.36 139.10,644.66 139.35,645.10 139.60,643.08 139.85,643.63 140.10,641.03 140.35,641.75 140.60,644.16 140.85,641.53 141.10,643.23 141.35,644.42 141.60,643.14 141.85,644.56 142.10,644.46 142.35,644.64 142.60,640.69 142.85,640.08 143.10,643.62 143.35,639.66 143.60,642.84 143.85,645.14 144.10,642.62 144.35,645.32 144.60,642.96 144.85,639.19 145.10,643.04 145.35,641.01 145.60,639.96 145.85,641.92 146.10,638.54 146.35,639.86 146.60,641.47 146.85,647.06 147.10,642.57 147.35,640.88 147.60,639.93 147.85,643.10 148.10,643.60 148.35,637.81 148.60,639.67 148.85,641.20 149.10,639.03 149.35,642.12 149.60,646.73 149.85,641.81 150.10,643.26 150.35,640.66 150.60,641.65 150.85,641.62 151.10,640.97 151.35,642.35 151.60,641.99 151.85,642.03 152.10,640.73 152.35,644.70 152.60,642.52 152.85,642.55 153.10,643.54 153.35,640.95 153.60,640.98 153.85,642.33 154.10,645.21 154.35,643.16 154.60,637.05 154.85,642.49 155.10,640.48 155.35,643.05 155.60,641.85 155.85,642.87 156.10,637.90 156.35,642.78 156.60,641.73 156.85,641.05 157.10,640.02 157.35,641.06 157.60,642.92 157.85,640.86 158.10,641.90 158.35,641.41 158.60,638.39 158.85,642.12 159.10,642.96 159.35,640.80 159.60,642.94 159.85,640.58 160.10,642.54 160.35,641.54 160.60,643.43 160.85,641.74 161.10,643.36 161.35,640.91 161.60,640.41 161.85,643.56 162.10,640.74 162.35,640.35 162.60,643.45 162.85,641.67 163.10,643.22 163.35,645.60 163.60,639.28 163.85,641.36 164.10,646.20 164.35,642.12 164.60,641.21 164.85,641.60 165.10,641.86 165.35,642.03 165.60,640.36 165.85,642.21 166.10,639.20 166.35,640.09 166.60,638.15 166.85,641.42 167.10,641.63 167.35,639.56 167.60,641.21 167.85,642.10 168.10,640.32 168.35,640.51 168.60,643.07 168.85,642.68 169.10,638.86 169.35,640.82 169.60,640.07 169.85,642.96 170.10,640.14 170.35,645.22 170.60,640.22 170.85,642.96 171.10,638.66 171.35,642.14 171.60,639.12 171.85,642.91 172.10,639.82 172.35,641.00 172.60,644.38 172.85,640.30 173.10,641.60 173.35,640.60 173.60,642.61 173.85,640.71 174.10,642.29 174.35,640.56 174.60,639.10 174.85,639.09 175.10,638.92 175.35,640.51 175.60,640.09 175.85,640.48 176.10,640.44 176.35,639.13 176.60,640.77 176.85,640.69 177.10,641.94 177.35,638.68 177.60,639.88 177.85,641.83 178.10,641.17 178.35,641.13 178.60,640.74 178.85,639.47 179.10,642.17 179.35,639.19 179.60,640.69 179.85,637.48 180.10,645.03 180.35,638.69 180.60,640.55 180.85,639.88 181.10,642.01 181.35,639.74 181.60,640.82 181.85,639.48 182.10,638.75 182.35,645.18 182.60,641.98 182.85,640.64 183.10,638.33 183.35,638.67 183.60,639.94 183.85,639.45 184.10,645.08 184.35,643.35 184.60,640.12 184.85,639.24 185.10,640.80 185.35,639.91 185.60,638.93 185.85,640.79 186.10,640.51 186.35,639.94 186.60,640.85 186.85,637.38 187.10,642.11 187.35,639.21 187.60,638.36 187.85,638.50 188.10,640.63 188.35,639.39 188.60,638.31 188.85,639.50 189.10,639.19 189.35,638.34 189.60,636.70 189.85,638.48 190.10,642.08 190.35,642.84 190.60,639.40 190.85,640.72 191.10,641.18 191.35,636.66 191.60,640.50 191.85,637.89 192.10,638.39 192.35,640.22 192.60,639.27 192.85,638.77 193.10,639.55 193.35,638.68 193.60,637.35 193.85,639.79 194.10,641.33 194.35,638.96 194.60,640.48 194.85,637.58 195.10,640.44 195.35,639.83 195.60,638.39 195.85,639.30 196.10,637.65 196.35,639.24 196.60,639.17 196.85,638.40 197.10,639.92 197.35,637.47 197.60,638.54 197.85,638.20 198.10,639.43 198.35,637.96 198.60,634.78 198.85,638.78 199.10,639.60 199.35,640.32 199.60,638.01 199.85,638.89 200.10,640.46 200.35,638.32 200.60,640.29 200.85,639.87 201.10,640.65 201.35,638.37 201.60,639.85 201.85,638.20 202.10,642.37 202.35,640.08 202.60,641.84 202.85,637.91 203.10,639.90 203.35,640.26 203.60,638.40 203.85,635.22 204.10,642.24 204.35,640.47 204.60,637.04 204.85,637.07 205.10,639.66 205.35,637.97 205.60,636.89 205.85,637.85 206.10,639.76 206.35,640.64 206.60,639.53 206.85,642.19 207.10,640.44 207.35,637.61 207.60,640.28 207.85,637.55 208.10,638.30 208.35,638.91 208.60,639.19 208.85,639.98 209.10,638.75 209.35,636.76 209.60,633.77 209.85,638.02 210.10,637.79 210.35,639.13 210.60,639.30 210.85,639.96 211.10,637.83 211.35,637.06 211.60,639.30 211.85,638.89 212.10,638.05 212.35,639.80 212.60,637.55 212.85,636.34 213.10,639.02 213.35,640.55 213.60,637.22 213.85,640.96 214.10,640.82 214.35,638.52 214.60,636.61 214.85,637.96 215.10,637.18 215.35,639.27 215.60,636.29 215.85,639.31 216.10,638.66 216.35,638.20 216.60,639.96 216.85,635.55 217.10,640.62 217.35,638.38 217.60,639.57 217.85,634.85 218.10,633.60 218.35,637.92 218.60,640.61 218.85,638.80 219.10,635.13 219.35,639.27 219.60,639.17 219.85,640.47 220.10,638.69 220.35,640.93 220.60,638.55 220.85,640.37 221.10,636.91 221.35,638.84 221.60,641.88 221.85,639.11 222.10,635.68 222.35,642.40 222.60,635.81 222.85,639.68 223.10,636.65 223.35,634.54 223.60,635.80 223.85,636.92 224.10,639.50 224.35,637.42 224.60,641.19 224.85,634.94 225.10,641.13 225.35,637.05 225.60,637.84 225.85,637.82 226.10,637.81 226.35,638.44 226.60,637.82 226.85,637.44 227.10,632.79 227.35,635.72 227.60,639.66 227.85,637.14 228.10,637.41 228.35,638.87 228.60,638.17 228.85,638.73 229.10,642.56 229.35,639.40 229.60,635.82 229.85,639.76 230.10,636.01 230.35,637.77 230.60,636.45 230.85,635.79 231.10,636.56 231.35,637.22 231.60,637.49 231.85,635.87 232.10,638.06 232.35,637.02 232.60,638.39 232.85,637.36 233.10,636.71 233.35,637.39 233.60,637.67 233.85,636.06 234.10,638.05 234.35,642.14 234.60,637.98 234.85,639.44 235.10,638.19 235.35,636.98 235.60,638.55 235.85,634.99 236.10,639.60 236.35,637.86 236.60,636.58 236.85,634.25 237.10,634.36 237.35,640.26 237.60,639.80 237.85,637.09 238.10,637.60 238.35,638.11 238.60,633.73 238.85,636.23 239.10,638.83 239.35,636.54 239.60,635.51 239.85,637.23 240.10,635.74 240.35,638.27 240.60,637.43 240.85,635.56 241.10,638.85 241.35,639.54 241.60,635.11 241.85,636.69 242.10,641.83 242.35,636.07 242.60,637.70 242.85,638.71 243.10,634.79 243.35,636.19 243.60,631.87 243.85,636.82 244.10,638.14 244.35,635.66 244.60,636.57 244.85,635.42 245.10,639.43 245.35,637.00 245.60,635.70 245.85,638.96 246.10,641.61 246.35,635.76 246.60,640.08 246.85,634.46 247.10,637.63 247.35,638.35 247.60,637.53 247.85,638.05 248.10,631.61" fill="none" stroke="#000" stroke-width="1.05" stroke-linejoin="round" />
<polyline points="86.10,645.98 86.35,646.95 86.60,646.58 86.85,643.01 87.10,646.34 87.35,646.45 87.60,642.06 87.85,642.06 88.10,649.65 88.35,647.98 88.60,642.82 88.85,645.65 89.10,644.36 89.35,646.59 89.60,644.54 89.85,645.64 90.10,646.08 90.35,645.55 90.60,647.52 90.85,647.03 91.10,644.72 91.35,648.21 91.60,645.31 91.85,646.14 92.10,645.91 92.35,648.27 92.60,645.20 92.85,646.00 93.10,647.24 93.35,647.20 93.60,646.80 93.85,646.35 94.10,648.50 94.35,646.83 94.60,646.52 94.85,646.67 95.10,646.80 95.35,647.86 95.60,647.81 95.85,646.08 96.10,647.28 96.35,642.99 96.60,645.87 96.85,646.04 97.10,642.76 97.35,650.84 97.60,649.20 97.85,645.92 98.10,646.95 98.35,647.42 98.60,647.74 98.85,647.35 99.10,644.69 99.35,642.66 99.60,645.27 99.85,648.32 100.10,648.03 100.35,645.90 100.60,648.10 100.85,649.34 101.10,645.08 101.35,648.78 101.60,646.81 101.85,647.73 102.10,646.46 102.35,650.02 102.60,645.93 102.85,648.26 103.10,643.43 103.35,646.64 103.60,646.96 103.85,649.65 104.10,647.60 104.35,646.72 104.60,646.64 104.85,646.31 105.10,645.52 105.35,647.67 105.60,647.87 105.85,646.39 106.10,645.29 106.35,644.56 106.60,645.97 106.85,647.09 107.10,649.11 107.35,645.42 107.60,646.97 107.85,644.87 108.10,644.76 108.35,647.24 108.60,647.22 108.85,644.26 109.10,644.90 109.35,647.61 109.60,646.88 109.85,649.18 110.10,645.47 110.35,645.59 110.60,643.67 110.85,650.59 111.10,645.71 111.35,648.67 111.60,647.42 111.85,649.67 112.10,644.25 112.35,645.96 112.60,648.42 112.85,646.39 113.10,642.06 113.35,647.46 113.60,643.28 113.85,648.40 114.10,650.44 114.35,642.06 114.60,646.98 114.85,646.56 115.10,646.11 115.35,647.72 115.60,650.59 115.85,643.18 116.10,646.88 116.35,651.14 116.60,647.50 116.85,648.05 117.10,647.05 117.35,643.46 117.60,646.36 117.85,642.67 118.10,645.79 118.35,648.60 118.60,644.63 118.85,643.68 119.10,640.64 119.35,638.36 119.60,637.65 119.85,639.89 120.10,636.28 120.35,633.26 120.60,631.55 120.85,627.85 121.10,625.76 121.35,625.24 121.60,620.14 121.85,624.54 122.10,623.77 122.35,619.73 122.60,618.68 122.85,617.94 123.10,616.71 123.35,616.16 123.60,611.37 123.85,612.92 124.10,612.12 124.35,610.48 124.60,612.17 124.85,611.89 125.10,611.76 125.35,609.09 125.60,605.89 125.85,610.78 126.10,607.23 126.35,606.58 126.60,607.90 126.85,602.76 127.10,602.32 127.35,605.28 127.60,602.69 127.85,601.11 128.10,604.80 128.35,601.95 128.60,600.08 128.85,602.92 129.10,599.13 129.35,598.87 129.60,598.72 129.85,597.55 130.10,598.91 130.35,599.58 130.60,597.99 130.85,595.36 131.10,596.39 131.35,597.74 131.60,599.84 131.85,597.05 132.10,595.24 132.35,596.65 132.60,594.19 132.85,594.82 133.10,595.80 133.35,597.86 133.60,595.63 133.85,596.59 134.10,595.48 134.35,590.85 134.60,591.86 134.85,596.98 135.10,595.05 135.35,593.83 135.60,591.33 135.85,592.94 136.10,588.18 136.35,592.90 136.60,595.13 136.85,591.05 137.10,586.69 137.35,590.92 137.60,590.75 137.85,590.50 138.10,591.56 138.35,589.57 138.60,589.64 138.85,590.34 139.10,592.11 139.35,589.67 139.60,590.42 139.85,589.61 140.10,586.77 140.35,588.13 140.60,588.15 140.85,589.45 141.10,587.88 141.35,587.36 141.60,589.39 141.85,587.39 142.10,592.33 142.35,588.64 142.60,586.68 142.85,588.16 143.10,587.67 143.35,584.53 143.60,586.45 143.85,585.85 144.10,584.98 144.35,586.31 144.60,586.93 144.85,586.54 145.10,585.57 145.35,584.22 145.60,583.41 145.85,584.55 146.10,584.44 146.35,586.15 146.60,579.44 146.85,583.58 147.10,582.08 147.35,582.62 147.60,585.29 147.85,580.78 148.10,585.54 148.35,581.03 148.60,582.60 148.85,579.63 149.10,582.10 149.35,584.03 149.60,583.02 149.85,583.34 150.10,582.67 150.35,581.22 150.60,581.50 150.85,580.40 151.10,580.04 151.35,582.01 151.60,582.55 151.85,581.42 152.10,579.52 152.35,580.98 152.60,580.19 152.85,578.31 153.10,579.32 153.35,580.61 153.60,579.53 153.85,578.51 154.10,578.86 154.35,579.30 154.60,577.92 154.85,580.84 155.10,579.38 155.35,579.41 155.60,579.30 155.85,579.38 156.10,576.91 156.35,579.70 156.60,577.35 156.85,577.41 157.10,578.51 157.35,575.22 157.60,577.51 157.85,578.90 158.10,576.19 158.35,574.99 158.60,579.64 158.85,576.61 159.10,575.78 159.35,575.76 159.60,577.96 159.85,576.51 160.10,576.25 160.35,575.72 160.60,575.94 160.85,573.57 161.10,573.63 161.35,575.88 161.60,575.45 161.85,572.53 162.10,569.68 162.35,575.74 162.60,573.49 162.85,575.78 163.10,576.24 163.35,570.58 163.60,571.13 163.85,575.21 164.10,573.61 164.35,574.45 164.60,573.14 164.85,572.55 165.10,571.97 165.35,571.75 165.60,570.74 165.85,574.36 166.10,573.67 166.35,574.53 166.60,570.99 166.85,572.70 167.10,573.89 167.35,571.21 167.60,570.91 167.85,568.59 168.10,571.98 168.35,572.59 168.60,571.00 168.85,573.50 169.10,569.89 169.35,571.55 169.60,572.17 169.85,570.88 170.10,572.51 170.35,572.01 170.60,569.83 170.85,570.34 171.10,565.72 171.35,570.46 171.60,574.50 171.85,569.58 172.10,569.82 172.35,574.58 172.60,567.84 172.85,569.23 173.10,567.97 173.35,568.73 173.60,568.56 173.85,573.05 174.10,570.54 174.35,569.08 174.60,569.83 174.85,568.71 175.10,568.72 175.35,569.33 175.60,570.44 175.85,568.03 176.10,566.60 176.35,569.78 176.60,570.98 176.85,572.18 177.10,568.09 177.35,568.31 177.60,570.83 177.85,566.50 178.10,567.36 178.35,566.38 178.60,566.08 178.85,562.45 179.10,564.74 179.35,568.16 179.60,566.10 179.85,567.74 180.10,566.90 180.35,567.18 180.60,564.89 180.85,565.84 181.10,568.72 181.35,564.67 181.60,567.33 181.85,563.95 182.10,570.48 182.35,565.15 182.60,566.14 182.85,563.52 183.10,566.77 183.35,565.22 183.60,562.97 183.85,562.47 184.10,568.08 184.35,563.52 184.60,564.04 184.85,562.45 185.10,564.08 185.35,566.26 185.60,564.02 185.85,562.28 186.10,566.26 186.35,564.04 186.60,564.02 186.85,563.86 187.10,565.83 187.35,566.31 187.60,559.87 187.85,565.46 188.10,567.39 188.35,563.37 188.60,563.96 188.85,560.49 189.10,563.95 189.35,565.71 189.60,562.61 189.85,565.73 190.10,564.35 190.35,563.42 190.60,566.71 190.85,563.10 191.10,564.61 191.35,564.82 191.60,565.71 191.85,563.72 192.10,564.81 192.35,564.26 192.60,564.03 192.85,569.75 193.10,567.13 193.35,566.83 193.60,560.45 193.85,564.30 194.10,564.31 194.35,564.24 194.60,565.94 194.85,564.62 195.10,566.24 195.35,565.10 195.60,564.74 195.85,562.87 196.10,565.63 196.35,564.10 196.60,564.73 196.85,563.99 197.10,565.22 197.35,565.26 197.60,565.57 197.85,563.30 198.10,567.07 198.35,566.32 198.60,569.75 198.85,569.75 199.10,564.70 199.35,565.62 199.60,563.64 199.85,562.00 200.10,564.81 200.35,564.25 200.60,565.86 200.85,562.99 201.10,565.18 201.35,563.01 201.60,562.99 201.85,565.90 202.10,561.26 202.35,560.69 202.60,563.70 202.85,565.92 203.10,564.65 203.35,563.98 203.60,566.27 203.85,565.37 204.10,565.43 204.35,568.62 204.60,564.22 204.85,560.41 205.10,562.46 205.35,565.94 205.60,563.40 205.85,564.97 206.10,564.79 206.35,565.02 206.60,562.10 206.85,565.04 207.10,567.84 207.35,565.05 207.60,564.83 207.85,564.77 208.10,564.18 208.35,561.77 208.60,564.82 208.85,565.39 209.10,564.04 209.35,564.56 209.60,564.45 209.85,565.92 210.10,565.01 210.35,563.59 210.60,562.67 210.85,564.23 211.10,565.19 211.35,565.95 211.60,565.26 211.85,564.52 212.10,565.54 212.35,563.81 212.60,565.43 212.85,565.94 213.10,566.33 213.35,564.04 213.60,565.75 213.85,565.96 214.10,564.32 214.35,564.56 214.60,564.11 214.85,564.77 215.10,566.24 215.35,563.17 215.60,565.29 215.85,566.34 216.10,567.90 216.35,565.78 216.60,563.73 216.85,564.77 217.10,564.38 217.35,561.87 217.60,567.21 217.85,565.62 218.10,564.82 218.35,566.88 218.60,563.97 218.85,568.95 219.10,564.59 219.35,564.97 219.60,562.87 219.85,567.00 220.10,563.98 220.35,562.29 220.60,564.71 220.85,566.44 221.10,564.48 221.35,561.44 221.60,563.79 221.85,563.42 222.10,561.78 222.35,563.21 222.60,564.95 222.85,566.00 223.10,563.76 223.35,564.00 223.60,564.28 223.85,566.73 224.10,560.44 224.35,567.93 224.60,566.02 224.85,564.14 225.10,566.59 225.35,562.98 225.60,566.65 225.85,565.01 226.10,562.66 226.35,564.25 226.60,567.01 226.85,563.44 227.10,565.00 227.35,565.88 227.60,565.84 227.85,566.49 228.10,563.30 228.35,566.59 228.60,566.46 228.85,564.96 229.10,565.64 229.35,564.95 229.60,564.76 229.85,564.84 230.10,566.18 230.35,563.22 230.60,563.43 230.85,559.87 231.10,563.72 231.35,565.46 231.60,564.29 231.85,566.01 232.10,563.16 232.35,563.20 232.60,563.97 232.85,563.88 233.10,562.15 233.35,563.71 233.60,566.96 233.85,565.02 234.10,563.11 234.35,562.94 234.60,564.71 234.85,566.23 235.10,569.03 235.35,565.08 235.60,566.57 235.85,565.16 236.10,566.50 236.35,564.14 236.60,563.19 236.85,567.38 237.10,565.01 237.35,564.33 237.60,566.10 237.85,564.41 238.10,566.44 238.35,566.86 238.60,566.04 238.85,564.37 239.10,564.00 239.35,564.97 239.60,565.15 239.85,564.99 240.10,564.67 240.35,563.39 240.60,563.50 240.85,563.38 241.10,567.56 241.35,563.80 241.60,567.42 241.85,563.59 242.10,563.37 242.35,559.87 242.60,566.69 242.85,565.98 243.10,564.53 243.35,567.86 243.60,565.78 243.85,565.59 244.10,566.65 244.35,564.53 244.60,562.19 244.85,565.11 245.10,565.16 245.35,564.72 245.60,566.41 245.85,563.75 246.10,564.25 246.35,563.80 246.60,564.60 246.85,563.98 247.10,564.32 247.35,562.84 247.60,565.27 247.85,563.83 248.10,565.22" fill="none" stroke="#000" stroke-width="1.05" stroke-linejoin="round" />
<polyline points="86.10,647.50 86.35,648.30 86.60,646.17 86.85,647.84 87.10,647.67 87.35,647.46 87.60,646.00 87.85,648.08 88.10,645.40 88.35,648.25 88.60,648.00 88.85,646.77 89.10,644.82 89.35,647.88 89.60,646.42 89.85,646.73 90.10,646.05 90.35,648.17 90.60,645.42 90.85,647.72 91.10,646.72 91.35,642.59 91.60,642.56 91.85,644.84 92.10,647.78 92.35,646.72 92.60,645.28 92.85,651.88 93.10,647.79 93.35,647.78 93.60,647.68 93.85,646.88 94.10,645.21 94.35,647.84 94.60,647.00 94.85,647.69 95.10,648.83 95.35,646.19 95.60,646.54 95.85,646.88 96.10,649.13 96.35,645.85 96.60,646.58 96.85,646.14 97.10,647.78 97.35,644.55 97.60,646.48 97.85,651.21 98.10,647.23 98.35,647.88 98.60,646.19 98.85,646.74 99.10,648.37 99.35,645.95 99.60,647.73 99.85,647.62 100.10,651.32 100.35,649.43 100.60,650.36 100.85,646.91 101.10,648.27 101.35,645.22 101.60,646.72 101.85,648.28 102.10,642.68 102.35,649.46 102.60,648.81 102.85,648.21 103.10,649.04 103.35,645.43 103.60,648.51 103.85,646.59 104.10,646.02 104.35,644.33 104.60,648.37 104.85,644.52 105.10,650.20 105.35,647.96 105.60,646.34 105.85,645.36 106.10,647.87 106.35,646.18 106.60,645.52 106.85,650.30 107.10,646.83 107.35,646.97 107.60,646.96 107.85,649.40 108.10,647.71 108.35,647.53 108.60,645.75 108.85,649.72 109.10,650.45 109.35,646.19 109.60,645.86 109.85,649.20 110.10,649.07 110.35,648.70 110.60,647.84 110.85,647.75 111.10,646.52 111.35,650.40 111.60,648.67 111.85,648.26 112.10,648.45 112.35,648.88 112.60,647.03 112.85,648.86 113.10,647.79 113.35,647.12 113.60,645.94 113.85,647.83 114.10,647.15 114.35,648.11 114.60,646.00 114.85,651.00 115.10,649.85 115.35,643.57 115.60,647.73 115.85,648.80 116.10,645.93 116.35,651.82 116.60,646.79 116.85,646.61 117.10,649.53 117.35,645.68 117.60,648.08 117.85,648.02 118.10,647.05 118.35,648.21 118.60,649.12 118.85,642.34 119.10,639.89 119.35,639.65 119.60,637.02 119.85,632.17 120.10,635.55 120.35,634.09 120.60,630.83 120.85,628.87 121.10,628.31 121.35,623.94 121.60,624.22 121.85,624.55 122.10,623.92 122.35,622.61 122.60,622.74 122.85,623.04 123.10,621.89 123.35,618.32 123.60,619.36 123.85,612.09 124.10,617.71 124.35,617.07 124.60,614.31 124.85,610.34 125.10,614.34 125.35,613.85 125.60,613.74 125.85,610.66 126.10,609.23 126.35,609.43 126.60,609.26 126.85,609.34 127.10,609.62 127.35,607.97 127.60,609.87 127.85,605.35 128.10,607.28 128.35,606.15 128.60,608.99 128.85,605.77 129.10,600.83 129.35,604.32 129.60,601.99 129.85,606.07 130.10,604.26 130.35,603.73 130.60,601.96 130.85,601.15 131.10,602.28 131.35,602.60 131.60,602.82 131.85,600.12 132.10,599.77 132.35,601.03 132.60,600.65 132.85,598.34 133.10,598.37 133.35,599.85 133.60,600.67 133.85,600.26 134.10,599.31 134.35,598.66 134.60,597.85 134.85,599.50 135.10,596.18 135.35,596.01 135.60,598.96 135.85,601.19 136.10,596.98 136.35,599.67 136.60,598.10 136.85,597.40 137.10,596.67 137.35,594.92 137.60,593.76 137.85,595.84 138.10,596.32 138.35,593.83 138.60,594.99 138.85,596.78 139.10,592.95 139.35,593.97 139.60,592.63 139.85,593.08 140.10,590.53 140.35,594.19 140.60,593.05 140.85,591.61 141.10,592.02 141.35,591.64 141.60,593.66 141.85,591.09 142.10,593.07 142.35,590.93 142.60,592.92 142.85,592.65 143.10,591.84 143.35,592.42 143.60,590.22 143.85,592.08 144.10,591.62 144.35,591.11 144.60,588.79 144.85,590.11 145.10,590.67 145.35,588.64 145.60,589.22 145.85,590.52 146.10,589.51 146.35,590.74 146.60,589.02 146.85,589.01 147.10,587.30 147.35,587.64 147.60,588.06 147.85,590.30 148.10,586.04 148.35,587.73 148.60,590.77 148.85,587.75 149.10,588.60 149.35,587.51 149.60,585.76 149.85,588.64 150.10,589.81 150.35,585.37 150.60,584.78 150.85,585.23 151.10,586.94 151.35,583.74 151.60,586.83 151.85,584.90 152.10,586.98 152.35,587.03 152.60,585.67 152.85,584.58 153.10,583.86 153.35,584.84 153.60,585.28 153.85,585.37 154.10,586.19 154.35,586.62 154.60,581.78 154.85,585.96 155.10,587.48 155.35,586.69 155.60,582.90 155.85,581.88 156.10,584.53 156.35,582.92 156.60,584.30 156.85,583.38 157.10,582.23 157.35,583.33 157.60,585.40 157.85,583.89 158.10,584.76 158.35,581.99 158.60,581.85 158.85,582.77 159.10,580.11 159.35,580.68 159.60,580.27 159.85,581.32 160.10,582.49 160.35,580.23 160.60,582.86 160.85,584.77 161.10,581.78 161.35,580.74 161.60,582.63 161.85,580.92 162.10,575.97 162.35,580.48 162.60,582.17 162.85,582.37 163.10,581.16 163.35,579.47 163.60,581.05 163.85,581.21 164.10,582.06 164.35,580.39 164.60,576.57 164.85,580.78 165.10,578.54 165.35,577.87 165.60,581.25 165.85,581.19 166.10,578.88 166.35,579.39 166.60,578.61 166.85,581.99 167.10,578.37 167.35,579.34 167.60,578.46 167.85,575.48 168.10,576.77 168.35,579.93 168.60,575.66 168.85,575.33 169.10,577.19 169.35,580.00 169.60,580.10 169.85,574.63 170.10,576.11 170.35,576.84 170.60,575.41 170.85,576.54 171.10,575.82 171.35,575.83 171.60,578.49 171.85,578.88 172.10,575.57 172.35,577.35 172.60,575.19 172.85,578.02 173.10,575.22 173.35,577.61 173.60,577.83 173.85,575.69 174.10,573.64 174.35,575.95 174.60,574.40 174.85,572.30 175.10,576.89 175.35,575.86 175.60,577.60 175.85,579.95 176.10,575.25 176.35,573.68 176.60,575.65 176.85,573.72 177.10,574.23 177.35,570.70 177.60,571.23 177.85,575.38 178.10,573.95 178.35,573.48 178.60,575.62 178.85,572.26 179.10,572.38 179.35,573.95 179.60,574.43 179.85,573.78 180.10,570.67 180.35,574.23 180.60,573.29 180.85,571.88 181.10,573.33 181.35,573.28 181.60,572.40 181.85,574.94 182.10,572.78 182.35,574.26 182.60,570.97 182.85,572.47 183.10,573.22 183.35,570.14 183.60,568.56 183.85,570.55 184.10,572.16 184.35,571.72 184.60,568.80 184.85,572.15 185.10,571.76 185.35,572.59 185.60,570.63 185.85,570.56 186.10,571.58 186.35,572.48 186.60,570.49 186.85,572.07 187.10,571.80 187.35,572.67 187.60,570.19 187.85,572.63 188.10,571.79 188.35,572.49 188.60,572.82 188.85,572.09 189.10,572.78 189.35,569.88 189.60,570.67 189.85,573.16 190.10,571.79 190.35,573.51 190.60,572.98 190.85,572.20 191.10,570.76 191.35,571.10 191.60,573.49 191.85,573.77 192.10,572.66 192.35,571.08 192.60,571.66 192.85,573.16 193.10,572.47 193.35,576.92 193.60,571.13 193.85,574.01 194.10,571.47 194.35,570.74 194.60,570.73 194.85,573.22 195.10,572.22 195.35,571.70 195.60,571.77 195.85,571.18 196.10,572.24 196.35,571.24 196.60,570.85 196.85,572.31 197.10,574.47 197.35,570.76 197.60,572.00 197.85,572.56 198.10,572.19 198.35,571.36 198.60,573.72 198.85,571.98 199.10,573.25 199.35,571.25 199.60,571.14 199.85,570.59 200.10,574.52 200.35,572.34 200.60,573.40 200.85,572.32 201.10,571.81 201.35,572.33 201.60,570.95 201.85,572.61 202.10,571.72 202.35,574.25 202.60,572.74 202.85,572.11 203.10,572.54 203.35,571.80 203.60,571.97 203.85,573.74 204.10,570.90 204.35,572.04 204.60,572.85 204.85,571.85 205.10,574.46 205.35,571.36 205.60,572.59 205.85,572.35 206.10,567.46 206.35,572.79 206.60,570.36 206.85,570.56 207.10,572.81 207.35,573.61 207.60,572.11 207.85,573.59 208.10,574.30 208.35,571.84 208.60,572.45 208.85,573.92 209.10,570.65 209.35,572.41 209.60,573.28 209.85,571.03 210.10,571.21 210.35,570.50 210.60,570.74 210.85,571.69 211.10,572.82 211.35,575.07 211.60,571.61 211.85,573.29 212.10,574.52 212.35,572.45 212.60,573.12 212.85,570.93 213.10,571.75 213.35,572.93 213.60,573.72 213.85,569.79 214.10,570.91 214.35,575.37 214.60,573.60 214.85,573.54 215.10,570.47 215.35,572.08 215.60,572.55 215.85,570.22 216.10,572.11 216.35,571.14 216.60,570.02 216.85,570.93 217.10,575.24 217.35,575.23 217.60,570.05 217.85,571.16 218.10,569.08 218.35,570.94 218.60,573.09 218.85,572.87 219.10,572.35 219.35,570.97 219.60,570.85 219.85,570.81 220.10,570.42 220.35,572.89 220.60,572.39 220.85,572.42 221.10,572.21 221.35,571.55 221.60,573.45 221.85,572.64 222.10,573.14 222.35,571.40 222.60,572.91 222.85,568.91 223.10,572.36 223.35,574.79 223.60,571.65 223.85,572.12 224.10,572.06 224.35,574.88 224.60,574.66 224.85,572.22 225.10,572.48 225.35,571.43 225.60,570.08 225.85,574.17 226.10,573.24 226.35,573.20 226.60,567.04 226.85,573.06 227.10,572.73 227.35,570.72 227.60,573.18 227.85,576.48 228.10,573.15 228.35,573.08 228.60,567.45 228.85,571.50 229.10,573.61 229.35,570.11 229.60,573.66 229.85,567.04 230.10,572.81 230.35,572.37 230.60,570.39 230.85,571.93 231.10,574.41 231.35,573.13 231.60,571.06 231.85,573.51 232.10,570.16 232.35,571.80 232.60,571.08 232.85,570.90 233.10,574.22 233.35,573.14 233.60,572.67 233.85,573.22 234.10,573.16 234.35,573.32 234.60,572.30 234.85,574.46 235.10,572.13 235.35,570.36 235.60,571.40 235.85,573.78 236.10,572.17 236.35,573.58 236.60,574.03 236.85,572.31 237.10,572.85 237.35,573.10 237.60,572.38 237.85,569.43 238.10,575.02 238.35,571.13 238.60,570.60 238.85,575.25 239.10,569.40 239.35,569.91 239.60,568.92 239.85,571.99 240.10,574.67 240.35,573.09 240.60,572.61 240.85,571.28 241.10,568.06 241.35,574.30 241.60,572.83 241.85,571.96 242.10,570.62 242.35,571.77 242.60,574.15 242.85,572.06 243.10,571.36 243.35,572.80 243.60,571.95 243.85,571.64 244.10,571.76 244.35,572.96 244.60,571.84 244.85,571.97 245.10,572.16 245.35,571.63 245.60,571.26 245.85,571.61 246.10,573.36 246.35,572.58 246.60,575.05 246.85,571.52 247.10,572.49 247.35,572.64 247.60,572.98 247.85,572.47 248.10,571.28" fill="none" stroke="#7a7a7a" stroke-width="1.05" stroke-linejoin="round" />
<line x1="427.00" y1="547.00" x2="427.00" y2="662.40" stroke="#333" stroke-width="1" />
<line x1="423.00" y1="655.40" x2="427.00" y2="655.40" stroke="#333" stroke-width="1" />
<text x="422.40" y="659.70" font-size="12" text-anchor="end" fill="#000" stroke="#000" stroke-width="0.3" >0.0</text>
<line x1="423.00" y1="621.40" x2="427.00" y2="621.40" stroke="#333" stroke-width="1" />
<text x="422.40" y="625.70" font-size="12" text-anchor="end" fill="#000" stroke="#000" stroke-width="0.3" >0.1</text>
<line x1="423.00" y1="587.40" x2="427.00" y2="587.40" stroke="#333" stroke-width="1" />
<text x="422.40" y="591.70" font-size="12" text-anchor="end" fill="#000" stroke="#000" stroke-width="0.3" >0.2</text>
<line x1="423.00" y1="553.40" x2="427.00" y2="553.40" stroke="#333" stroke-width="1" />
<text x="422.40" y="557.70" font-size="12" text-anchor="end" fill="#000" stroke="#000" stroke-width="0.3" >0.3</text>
<line x1="427.00" y1="655.40" x2="628.30" y2="655.40" stroke="#000" stroke-width="1" stroke-dasharray="1.3,1.3"/>
<line x1="446.00" y1="681.30" x2="629.30" y2="681.30" stroke="#333" stroke-width="1" />
<line x1="446.00" y1="681.30" x2="446.00" y2="684.90" stroke="#333" stroke-width="1" />
<text x="446.00" y="697.60" font-size="12" text-anchor="middle" fill="#000" stroke="#000" stroke-width="0.3" >0</text>
<line x1="499.70" y1="681.30" x2="499.70" y2="684.90" stroke="#333" stroke-width="1" />
<text x="499.70" y="697.60" font-size="12" text-anchor="middle" fill="#000" stroke="#000" stroke-width="0.3" >500</text>
<line x1="553.40" y1="681.30" x2="553.40" y2="684.90" stroke="#333" stroke-width="1" />
<text x="553.40" y="697.60" font-size="12" text-anchor="middle" fill="#000" stroke="#000" stroke-width="0.3" >1000</text>
<line x1="607.10" y1="681.30" x2="607.10" y2="684.90" stroke="#333" stroke-width="1" />
<text x="607.10" y="697.60" font-size="12" text-anchor="middle" fill="#000" stroke="#000" stroke-width="0.3" >1500</text>
<text x="538.00" y="712.90" font-size="12.9" text-anchor="middle" fill="#000" stroke="#000" stroke-width="0.3" >Time (Sec)</text>
<text x="380.50" y="603.60" font-size="12.8" text-anchor="middle" fill="#000" stroke="#000" stroke-width="0.3" transform="rotate(-90 380.50 603.60)" >Response</text>
<text x="395.60" y="603.00" font-size="12.8" text-anchor="middle" fill="#000" stroke="#000" stroke-width="0.3" transform="rotate(-90 395.60 603.00)" >(nm shift)</text>
<text x="528.80" y="537.50" font-size="12.85" text-anchor="middle" fill="#000" stroke="#000" stroke-width="0.3" >sSiglec-5/Fc</text>
<text x="591.80" y="560.90" font-size="11.7" text-anchor="start" fill="#000" stroke="#000" stroke-width="0.3" font-weight="bold" >mPSGL1</text>
<text x="591.80" y="602.30" font-size="11.7" text-anchor="start" fill="#363636" stroke="#363636" stroke-width="0.3" font-weight="bold" >hPSGL1</text>
<text x="592.40" y="650.00" font-size="11.7" text-anchor="start" fill="#000" stroke="#000" stroke-width="0.3" font-weight="bold" >BSA</text>
<polyline points="446.00,638.19 446.25,637.58 446.50,637.59 446.75,640.06 447.00,640.73 447.25,638.14 447.50,636.58 447.75,637.35 448.00,643.30 448.25,648.12 448.50,638.14 448.75,638.66 449.00,638.40 449.25,631.82 449.50,636.80 449.75,639.73 450.00,637.72 450.25,636.19 450.50,640.18 450.75,638.84 451.00,641.69 451.25,637.71 451.50,637.06 451.75,638.18 452.00,639.56 452.25,635.55 452.50,639.92 452.75,637.48 453.00,636.42 453.25,641.20 453.50,634.74 453.75,629.66 454.00,637.35 454.25,636.93 454.50,638.75 454.75,637.72 455.00,643.58 455.25,639.78 455.50,634.96 455.75,640.82 456.00,637.50 456.25,630.73 456.50,638.74 456.75,639.23 457.00,637.48 457.25,636.87 457.50,634.60 457.75,633.66 458.00,638.24 458.25,634.09 458.50,642.82 458.75,633.68 459.00,629.21 459.25,635.98 459.50,637.03 459.75,630.31 460.00,637.49 460.25,631.85 460.50,629.29 460.75,639.68 461.00,632.40 461.25,636.67 461.50,630.97 461.75,635.46 462.00,631.40 462.25,640.43 462.50,635.54 462.75,637.13 463.00,637.91 463.25,636.99 463.50,629.90 463.75,635.16 464.00,636.86 464.25,637.13 464.50,632.19 464.75,639.06 465.00,637.43 465.25,636.05 465.50,636.44 465.75,632.62 466.00,633.53 466.25,638.03 466.50,636.83 466.75,642.89 467.00,642.64 467.25,633.43 467.50,632.90 467.75,633.27 468.00,640.66 468.25,634.05 468.50,635.31 468.75,628.88 469.00,639.02 469.25,634.56 469.50,638.67 469.75,627.53 470.00,630.33 470.25,630.57 470.50,635.63 470.75,632.94 471.00,640.53 471.25,631.65 471.50,631.83 471.75,639.03 472.00,639.45 472.25,633.60 472.50,630.64 472.75,636.18 473.00,635.82 473.25,630.09 473.50,635.56 473.75,640.66 474.00,631.79 474.25,636.39 474.50,628.30 474.75,632.29 475.00,633.11 475.25,638.52 475.50,636.84 475.75,634.71 476.00,633.78 476.25,635.13 476.50,632.68 476.75,634.69 477.00,634.46 477.25,632.42 477.50,633.67 477.75,623.63 478.00,645.78 478.25,639.30 478.50,639.66 478.75,641.17 479.00,642.57 479.25,641.78 479.50,638.74 479.75,647.54 480.00,641.32 480.25,638.53 480.50,630.10 480.75,641.03 481.00,635.49 481.25,640.38 481.50,640.07 481.75,637.24 482.00,637.35 482.25,633.00 482.50,634.98 482.75,639.48 483.00,638.71 483.25,641.43 483.50,643.88 483.75,646.15 484.00,642.24 484.25,647.79 484.50,650.90 484.75,633.13 485.00,639.30 485.25,639.79 485.50,636.66 485.75,643.06 486.00,644.20 486.25,648.13 486.50,637.96 486.75,639.85 487.00,644.76 487.25,638.58 487.50,640.97 487.75,638.55 488.00,639.85 488.25,640.20 488.50,644.53 488.75,639.49 489.00,638.23 489.25,644.47 489.50,633.68 489.75,641.96 490.00,646.13 490.25,639.17 490.50,639.51 490.75,641.43 491.00,644.03 491.25,643.95 491.50,640.06 491.75,641.44 492.00,636.21 492.25,637.90 492.50,640.86 492.75,639.18 493.00,638.56 493.25,643.28 493.50,642.62 493.75,642.86 494.00,640.03 494.25,639.65 494.50,635.17 494.75,644.26 495.00,634.94 495.25,639.66 495.50,644.95 495.75,641.07 496.00,643.76 496.25,641.73 496.50,637.98 496.75,639.97 497.00,650.90 497.25,650.90 497.50,650.90 497.75,636.73 498.00,634.50 498.25,638.40 498.50,638.53 498.75,640.15 499.00,645.23 499.25,640.06 499.50,642.08 499.75,634.41 500.00,640.88 500.25,641.80 500.50,637.24 500.75,642.08 501.00,645.88 501.25,640.02 501.50,635.60 501.75,641.51 502.00,633.43 502.25,642.09 502.50,638.10 502.75,635.49 503.00,647.78 503.25,640.19 503.50,638.97 503.75,642.93 504.00,641.42 504.25,637.94 504.50,644.87 504.75,642.24 505.00,641.17 505.25,640.24 505.50,637.65 505.75,640.14 506.00,645.22 506.25,637.43 506.50,640.97 506.75,643.51 507.00,641.46 507.25,631.11 507.50,647.38 507.75,641.52 508.00,640.91 508.25,633.90 508.50,645.88 508.75,641.39 509.00,642.68 509.25,644.07 509.50,642.65 509.75,640.01 510.00,642.66 510.25,643.69 510.50,640.85 510.75,639.77 511.00,634.01 511.25,634.67 511.50,643.89 511.75,640.49 512.00,641.13 512.25,636.05 512.50,641.79 512.75,639.66 513.00,636.04 513.25,640.66 513.50,633.21 513.75,636.11 514.00,630.10 514.25,641.10 514.50,642.35 514.75,640.50 515.00,639.62 515.25,647.06 515.50,640.04 515.75,643.18 516.00,645.93 516.25,645.67 516.50,636.03 516.75,645.80 517.00,646.87 517.25,641.16 517.50,641.59 517.75,639.82 518.00,640.73 518.25,639.99 518.50,638.19 518.75,639.70 519.00,640.92 519.25,631.99 519.50,642.37 519.75,640.79 520.00,639.57 520.25,638.94 520.50,639.03 520.75,634.82 521.00,634.98 521.25,639.76 521.50,638.05 521.75,640.61 522.00,636.03 522.25,642.50 522.50,640.43 522.75,637.43 523.00,641.06 523.25,639.80 523.50,645.18 523.75,635.61 524.00,650.90 524.25,642.68 524.50,641.08 524.75,643.17 525.00,638.99 525.25,649.25 525.50,643.35 525.75,639.61 526.00,641.00 526.25,647.62 526.50,639.46 526.75,645.73 527.00,639.74 527.25,634.37 527.50,635.44 527.75,639.34 528.00,636.50 528.25,643.81 528.50,643.90 528.75,642.40 529.00,649.92 529.25,635.24 529.50,636.16 529.75,640.19 530.00,644.71 530.25,637.02 530.50,646.71 530.75,647.25 531.00,638.11 531.25,640.97 531.50,641.50 531.75,635.67 532.00,634.75 532.25,645.23 532.50,642.07 532.75,642.66 533.00,636.57 533.25,640.81 533.50,639.60 533.75,637.06 534.00,639.62 534.25,640.00 534.50,641.01 534.75,641.38 535.00,646.36 535.25,637.69 535.50,643.66 535.75,645.97 536.00,644.33 536.25,640.76 536.50,641.98 536.75,643.16 537.00,635.93 537.25,635.08 537.50,636.37 537.75,635.84 538.00,638.37 538.25,635.39 538.50,636.32 538.75,638.47 539.00,636.33 539.25,639.92 539.50,638.77 539.75,637.92 540.00,635.89 540.25,641.16 540.50,638.30 540.75,632.19 541.00,633.59 541.25,642.36 541.50,637.79 541.75,637.56 542.00,642.22 542.25,637.22 542.50,633.51 542.75,633.81 543.00,635.21 543.25,631.25 543.50,638.15 543.75,627.49 544.00,632.77 544.25,633.58 544.50,633.94 544.75,631.92 545.00,632.68 545.25,640.56 545.50,635.64 545.75,631.84 546.00,636.85 546.25,633.00 546.50,637.93 546.75,631.27 547.00,629.87 547.25,632.36 547.50,635.12 547.75,639.67 548.00,637.96 548.25,642.69 548.50,634.26 548.75,636.45 549.00,637.71 549.25,626.16 549.50,636.72 549.75,631.34 550.00,633.42 550.25,630.85 550.50,640.03 550.75,628.97 551.00,631.83 551.25,630.54 551.50,629.11 551.75,636.35 552.00,634.65 552.25,639.82 552.50,638.51 552.75,630.49 553.00,631.99 553.25,632.91 553.50,632.49 553.75,635.77 554.00,632.51 554.25,631.48 554.50,629.45 554.75,632.89 555.00,630.25 555.25,622.56 555.50,634.78 555.75,631.96 556.00,631.59 556.25,636.56 556.50,629.70 556.75,629.43 557.00,633.01 557.25,622.31 557.50,631.12 557.75,628.47 558.00,636.79 558.25,638.99 558.50,629.09 558.75,636.61 559.00,627.81 559.25,642.24 559.50,641.14 559.75,628.71 560.00,632.36 560.25,632.99 560.50,629.12 560.75,631.20 561.00,634.03 561.25,631.89 561.50,636.49 561.75,633.26 562.00,632.71 562.25,632.66 562.50,642.01 562.75,634.73 563.00,625.99 563.25,631.12 563.50,632.33 563.75,632.36 564.00,630.31 564.25,627.54 564.50,628.40 564.75,641.88 565.00,629.37 565.25,630.74 565.50,630.52 565.75,636.07 566.00,632.63 566.25,628.58 566.50,634.15 566.75,632.76 567.00,629.38 567.25,631.13 567.50,626.45 567.75,630.14 568.00,631.02 568.25,627.23 568.50,633.90 568.75,627.45 569.00,629.41 569.25,623.96 569.50,633.94 569.75,626.51 570.00,634.67 570.25,632.94 570.50,631.73 570.75,626.59 571.00,628.54 571.25,633.65 571.50,629.96 571.75,630.67 572.00,629.10 572.25,635.27 572.50,630.74 572.75,628.16 573.00,634.97 573.25,632.47 573.50,629.07 573.75,628.96 574.00,633.32 574.25,633.08 574.50,634.20 574.75,633.75 575.00,633.80 575.25,629.79 575.50,634.98 575.75,624.64 576.00,632.51 576.25,627.63 576.50,632.32 576.75,632.51 577.00,626.73 577.25,628.58 577.50,629.54 577.75,626.91 578.00,637.74 578.25,636.23 578.50,626.88 578.75,641.52 579.00,634.44 579.25,631.04 579.50,634.50 579.75,635.48 580.00,628.14 580.25,629.74 580.50,631.61 580.75,631.88 581.00,631.91 581.25,632.87 581.50,626.69 581.75,632.18 582.00,629.94 582.25,631.54 582.50,634.53 582.75,630.74 583.00,638.86 583.25,633.72 583.50,628.22 583.75,633.71 584.00,636.11 584.25,627.24 584.50,631.03 584.75,632.33 585.00,640.92 585.25,632.54 585.50,628.77 585.75,633.12 586.00,632.23 586.25,633.61 586.50,635.45 586.75,628.15 587.00,630.44 587.25,633.22 587.50,629.02 587.75,633.15 588.00,638.92 588.25,629.85 588.50,634.46 588.75,620.64 589.00,632.19 589.25,633.69 589.50,633.00 589.75,633.40 590.00,636.85 590.25,631.75 590.50,630.91 590.75,634.83 591.00,626.64 591.25,630.00 591.50,629.51 591.75,632.89 592.00,634.57 592.25,630.54 592.50,626.07 592.75,629.78 593.00,635.43 593.25,625.07 593.50,637.46 593.75,632.71 594.00,630.89 594.25,631.59 594.50,628.47 594.75,635.68 595.00,631.46 595.25,632.71 595.50,641.42 595.75,629.68 596.00,627.02 596.25,635.80 596.50,630.90 596.75,632.57 597.00,628.18 597.25,628.97 597.50,626.60 597.75,629.37 598.00,631.56 598.25,629.55 598.50,631.01 598.75,628.28 599.00,641.25 599.25,629.32 599.50,632.17 599.75,630.76 600.00,623.11 600.25,630.70 600.50,624.67 600.75,634.25 601.00,630.30 601.25,629.17 601.50,623.20 601.75,629.71 602.00,632.17 602.25,633.80 602.50,625.91 602.75,633.96 603.00,628.70 603.25,633.28 603.50,633.37 603.75,629.53 604.00,631.79 604.25,627.14 604.50,634.30 604.75,639.72 605.00,632.74 605.25,629.34 605.50,622.95 605.75,636.18 606.00,636.12 606.25,632.36 606.50,628.26 606.75,630.04 607.00,626.71 607.25,624.84 607.50,633.54 607.75,631.66 608.00,629.67 608.25,632.68 608.50,640.08" fill="none" stroke="#000" stroke-width="1.1" stroke-linejoin="round" />
<line x1="446.30" y1="634.00" x2="446.30" y2="662.00" stroke="#222" stroke-width="1.2" />
<polyline points="446.00,637.99 446.25,637.00 446.50,641.88 446.75,645.63 447.00,640.00 447.25,636.99 447.50,634.09 447.75,642.90 448.00,639.66 448.25,635.98 448.50,637.90 448.75,642.73 449.00,638.03 449.25,637.83 449.50,646.96 449.75,640.56 450.00,642.25 450.25,635.95 450.50,636.18 450.75,632.78 451.00,628.46 451.25,638.12 451.50,638.56 451.75,640.92 452.00,642.46 452.25,636.65 452.50,646.03 452.75,635.31 453.00,634.94 453.25,638.19 453.50,634.95 453.75,639.04 454.00,639.89 454.25,638.59 454.50,635.19 454.75,636.08 455.00,646.06 455.25,634.51 455.50,639.63 455.75,627.06 456.00,639.35 456.25,638.15 456.50,637.46 456.75,639.13 457.00,637.75 457.25,639.07 457.50,645.76 457.75,633.28 458.00,637.00 458.25,638.16 458.50,639.17 458.75,634.03 459.00,640.40 459.25,634.85 459.50,639.46 459.75,637.36 460.00,638.82 460.25,641.86 460.50,639.09 460.75,635.45 461.00,631.34 461.25,640.23 461.50,631.70 461.75,639.93 462.00,636.26 462.25,633.69 462.50,631.65 462.75,634.95 463.00,639.58 463.25,640.25 463.50,636.68 463.75,636.01 464.00,634.67 464.25,636.02 464.50,636.93 464.75,632.23 465.00,633.91 465.25,637.92 465.50,638.35 465.75,639.49 466.00,639.62 466.25,634.09 466.50,644.06 466.75,634.72 467.00,629.40 467.25,640.77 467.50,635.89 467.75,631.08 468.00,634.49 468.25,641.71 468.50,625.06 468.75,635.50 469.00,634.60 469.25,635.91 469.50,632.03 469.75,642.11 470.00,644.51 470.25,634.46 470.50,627.74 470.75,634.56 471.00,638.14 471.25,634.33 471.50,640.01 471.75,632.88 472.00,639.58 472.25,632.69 472.50,634.76 472.75,640.73 473.00,627.85 473.25,635.50 473.50,632.94 473.75,635.00 474.00,630.03 474.25,629.39 474.50,636.26 474.75,636.35 475.00,639.32 475.25,636.01 475.50,635.17 475.75,638.21 476.00,630.68 476.25,634.98 476.50,630.26 476.75,637.09 477.00,636.60 477.25,630.82 477.50,634.50 477.75,624.59 478.00,632.72 478.25,632.77 478.50,626.86 478.75,623.97 479.00,624.47 479.25,627.00 479.50,626.90 479.75,624.36 480.00,628.29 480.25,626.78 480.50,619.39 480.75,623.39 481.00,623.69 481.25,623.45 481.50,622.72 481.75,617.93 482.00,618.89 482.25,620.70 482.50,614.70 482.75,617.86 483.00,612.25 483.25,617.47 483.50,618.87 483.75,621.25 484.00,615.44 484.25,614.57 484.50,620.04 484.75,614.91 485.00,615.68 485.25,621.56 485.50,605.11 485.75,617.28 486.00,616.35 486.25,609.58 486.50,608.91 486.75,612.73 487.00,610.50 487.25,610.90 487.50,611.99 487.75,608.59 488.00,610.55 488.25,615.82 488.50,609.65 488.75,606.92 489.00,608.52 489.25,613.15 489.50,612.61 489.75,605.43 490.00,601.92 490.25,603.50 490.50,609.33 490.75,611.72 491.00,602.94 491.25,603.02 491.50,605.97 491.75,601.37 492.00,604.21 492.25,601.29 492.50,604.19 492.75,601.43 493.00,607.93 493.25,605.38 493.50,600.83 493.75,602.40 494.00,600.27 494.25,602.94 494.50,600.33 494.75,597.71 495.00,596.41 495.25,601.13 495.50,596.72 495.75,604.53 496.00,603.27 496.25,602.41 496.50,602.02 496.75,589.04 497.00,601.51 497.25,602.80 497.50,597.47 497.75,604.81 498.00,596.04 498.25,598.78 498.50,597.05 498.75,597.74 499.00,596.09 499.25,597.77 499.50,590.06 499.75,601.22 500.00,598.53 500.25,602.11 500.50,593.29 500.75,596.39 501.00,595.34 501.25,598.29 501.50,594.85 501.75,591.93 502.00,597.06 502.25,594.04 502.50,602.56 502.75,595.84 503.00,588.77 503.25,599.59 503.50,594.09 503.75,593.71 504.00,592.85 504.25,586.70 504.50,595.81 504.75,590.79 505.00,592.94 505.25,589.79 505.50,596.59 505.75,585.44 506.00,592.43 506.25,590.62 506.50,594.62 506.75,584.88 507.00,590.79 507.25,590.13 507.50,587.71 507.75,585.87 508.00,584.73 508.25,580.75 508.50,581.91 508.75,586.59 509.00,587.20 509.25,586.98 509.50,587.97 509.75,581.39 510.00,588.77 510.25,583.25 510.50,584.96 510.75,583.97 511.00,586.01 511.25,587.78 511.50,592.95 511.75,584.89 512.00,583.65 512.25,582.32 512.50,585.77 512.75,587.75 513.00,580.97 513.25,583.62 513.50,587.09 513.75,585.10 514.00,579.45 514.25,594.20 514.50,581.34 514.75,583.99 515.00,583.41 515.25,583.88 515.50,580.81 515.75,585.96 516.00,577.14 516.25,586.07 516.50,580.10 516.75,587.08 517.00,582.32 517.25,571.61 517.50,584.11 517.75,588.32 518.00,583.90 518.25,574.43 518.50,583.37 518.75,580.66 519.00,586.14 519.25,583.33 519.50,582.77 519.75,579.77 520.00,583.26 520.25,581.39 520.50,585.14 520.75,585.57 521.00,588.98 521.25,579.09 521.50,579.48 521.75,579.27 522.00,581.65 522.25,578.54 522.50,575.84 522.75,583.30 523.00,580.38 523.25,579.64 523.50,576.69 523.75,577.69 524.00,570.18 524.25,576.18 524.50,576.15 524.75,578.08 525.00,572.92 525.25,578.32 525.50,583.30 525.75,576.49 526.00,577.96 526.25,577.80 526.50,579.21 526.75,566.70 527.00,581.67 527.25,579.16 527.50,575.18 527.75,578.13 528.00,574.44 528.25,577.59 528.50,581.81 528.75,580.51 529.00,577.64 529.25,582.52 529.50,583.76 529.75,574.27 530.00,578.67 530.25,580.98 530.50,574.90 530.75,573.54 531.00,569.66 531.25,581.06 531.50,572.79 531.75,574.14 532.00,573.40 532.25,581.49 532.50,564.88 532.75,582.61 533.00,568.18 533.25,574.46 533.50,576.81 533.75,568.44 534.00,572.31 534.25,574.87 534.50,584.07 534.75,571.89 535.00,564.67 535.25,573.92 535.50,577.67 535.75,572.79 536.00,576.91 536.25,571.25 536.50,571.59 536.75,575.94 537.00,574.00 537.25,576.48 537.50,573.12 537.75,579.50 538.00,572.65 538.25,569.24 538.50,566.56 538.75,571.67 539.00,569.40 539.25,577.87 539.50,575.41 539.75,578.01 540.00,569.44 540.25,571.38 540.50,568.35 540.75,569.14 541.00,571.59 541.25,571.39 541.50,571.20 541.75,572.36 542.00,575.94 542.25,573.03 542.50,577.48 542.75,571.85 543.00,574.14 543.25,573.82 543.50,569.17 543.75,570.52 544.00,565.55 544.25,572.69 544.50,571.57 544.75,569.58 545.00,572.69 545.25,570.04 545.50,576.65 545.75,570.65 546.00,576.49 546.25,571.22 546.50,579.73 546.75,570.71 547.00,569.44 547.25,571.89 547.50,562.84 547.75,567.62 548.00,570.32 548.25,572.01 548.50,570.60 548.75,567.38 549.00,569.39 549.25,576.92 549.50,578.83 549.75,582.87 550.00,571.35 550.25,575.14 550.50,572.74 550.75,567.88 551.00,573.46 551.25,570.53 551.50,565.90 551.75,572.19 552.00,571.29 552.25,572.98 552.50,578.91 552.75,569.90 553.00,568.42 553.25,567.44 553.50,579.08 553.75,569.66 554.00,570.10 554.25,568.71 554.50,572.64 554.75,571.98 555.00,575.31 555.25,574.71 555.50,575.08 555.75,567.82 556.00,574.80 556.25,570.13 556.50,572.08 556.75,578.19 557.00,568.96 557.25,567.64 557.50,564.63 557.75,573.80 558.00,571.06 558.25,571.24 558.50,571.65 558.75,569.94 559.00,569.98 559.25,573.82 559.50,566.03 559.75,577.15 560.00,574.15 560.25,569.33 560.50,570.87 560.75,573.78 561.00,576.82 561.25,566.48 561.50,572.24 561.75,571.14 562.00,573.75 562.25,570.49 562.50,572.71 562.75,570.99 563.00,569.81 563.25,569.92 563.50,575.26 563.75,572.76 564.00,569.78 564.25,571.59 564.50,571.67 564.75,562.89 565.00,564.97 565.25,575.39 565.50,571.61 565.75,573.98 566.00,569.43 566.25,572.17 566.50,573.73 566.75,578.19 567.00,573.13 567.25,572.56 567.50,575.11 567.75,570.29 568.00,578.80 568.25,570.80 568.50,576.48 568.75,566.29 569.00,574.01 569.25,569.68 569.50,568.92 569.75,561.03 570.00,572.49 570.25,578.22 570.50,570.99 570.75,573.16 571.00,571.80 571.25,571.18 571.50,574.69 571.75,570.02 572.00,582.87 572.25,569.91 572.50,569.80 572.75,566.70 573.00,564.71 573.25,582.31 573.50,572.30 573.75,562.65 574.00,571.78 574.25,571.80 574.50,573.04 574.75,573.68 575.00,573.84 575.25,569.86 575.50,567.68 575.75,568.67 576.00,576.03 576.25,576.66 576.50,569.01 576.75,570.01 577.00,572.43 577.25,574.44 577.50,568.07 577.75,573.69 578.00,578.31 578.25,561.03 578.50,571.83 578.75,570.93 579.00,569.48 579.25,574.43 579.50,570.95 579.75,575.03 580.00,571.67 580.25,570.22 580.50,573.60 580.75,571.61 581.00,570.90 581.25,564.65 581.50,573.18 581.75,565.19 582.00,572.38 582.25,572.04 582.50,570.36 582.75,569.29 583.00,572.27 583.25,569.61 583.50,572.54 583.75,571.24 584.00,574.30 584.25,570.74 584.50,570.94 584.75,570.33 585.00,575.32 585.25,567.41 585.50,572.06 585.75,571.40 586.00,582.87 586.25,569.66 586.50,567.23 586.75,567.61 587.00,570.42 587.25,564.87 587.50,572.83 587.75,575.34 588.00,573.60 588.25,569.69 588.50,566.82 588.75,571.19 589.00,569.15 589.25,566.01 589.50,570.19 589.75,572.42 590.00,570.63 590.25,569.47 590.50,570.13 590.75,571.10 591.00,571.23 591.25,570.10 591.50,576.74 591.75,577.31 592.00,572.18 592.25,572.67 592.50,577.54 592.75,565.77 593.00,569.07 593.25,572.58 593.50,575.28 593.75,565.42 594.00,566.09 594.25,571.49 594.50,570.25 594.75,564.19 595.00,572.02 595.25,572.58 595.50,571.51 595.75,568.34 596.00,571.70 596.25,580.86 596.50,563.38 596.75,572.35 597.00,572.20 597.25,566.90 597.50,567.49 597.75,570.17 598.00,572.11 598.25,574.73 598.50,561.03 598.75,569.11 599.00,566.50 599.25,569.86 599.50,582.87 599.75,567.83 600.00,571.87 600.25,566.21 600.50,567.57 600.75,572.93 601.00,573.58 601.25,579.78 601.50,570.54 601.75,575.52 602.00,580.14 602.25,570.79 602.50,574.04 602.75,578.93 603.00,564.17 603.25,572.23 603.50,571.06 603.75,580.04 604.00,563.30 604.25,571.74 604.50,574.90 604.75,569.81 605.00,572.69 605.25,574.14 605.50,570.79 605.75,582.38 606.00,577.15 606.25,565.64 606.50,572.96 606.75,573.76 607.00,569.28 607.25,575.49 607.50,571.97 607.75,574.40 608.00,573.03 608.25,576.56 608.50,572.14" fill="none" stroke="#000" stroke-width="1.1" stroke-linejoin="round" />
<polyline points="446.00,646.99 446.25,647.06 446.50,652.17 446.75,652.29 447.00,647.25 447.25,649.66 447.50,647.75 447.75,645.07 448.00,654.78 448.25,658.76 448.50,649.98 448.75,649.21 449.00,643.67 449.25,647.45 449.50,651.92 449.75,652.13 450.00,647.08 450.25,652.47 450.50,635.71 450.75,646.50 451.00,646.96 451.25,648.21 451.50,644.36 451.75,644.29 452.00,651.46 452.25,644.62 452.50,643.93 452.75,658.31 453.00,650.99 453.25,640.76 453.50,647.98 453.75,650.37 454.00,638.75 454.25,647.44 454.50,646.88 454.75,647.76 455.00,648.53 455.25,646.05 455.50,646.33 455.75,651.86 456.00,640.13 456.25,651.04 456.50,645.90 456.75,635.86 457.00,642.30 457.25,644.44 457.50,647.32 457.75,649.74 458.00,643.06 458.25,646.31 458.50,651.43 458.75,657.94 459.00,647.85 459.25,656.88 459.50,645.35 459.75,643.83 460.00,649.08 460.25,643.26 460.50,644.36 460.75,650.27 461.00,649.81 461.25,644.43 461.50,649.49 461.75,647.24 462.00,646.85 462.25,647.73 462.50,652.26 462.75,647.85 463.00,647.26 463.25,634.71 463.50,646.80 463.75,644.40 464.00,657.31 464.25,642.40 464.50,644.98 464.75,647.17 465.00,642.10 465.25,644.20 465.50,648.92 465.75,646.38 466.00,643.97 466.25,649.02 466.50,641.38 466.75,645.27 467.00,644.85 467.25,646.06 467.50,649.70 467.75,642.13 468.00,647.97 468.25,643.67 468.50,648.80 468.75,645.57 469.00,645.84 469.25,640.54 469.50,638.52 469.75,648.63 470.00,648.49 470.25,642.05 470.50,648.31 470.75,651.74 471.00,637.45 471.25,645.56 471.50,652.22 471.75,647.90 472.00,641.19 472.25,638.27 472.50,642.01 472.75,648.84 473.00,648.23 473.25,643.13 473.50,649.09 473.75,640.29 474.00,644.88 474.25,654.80 474.50,638.63 474.75,645.55 475.00,645.22 475.25,643.86 475.50,652.88 475.75,642.87 476.00,644.77 476.25,641.97 476.50,649.09 476.75,643.95 477.00,648.48 477.25,641.09 477.50,642.14 477.75,650.71 478.00,636.87 478.25,643.19 478.50,633.40 478.75,633.40 479.00,629.27 479.25,630.51 479.50,629.21 479.75,634.39 480.00,621.73 480.25,632.52 480.50,630.87 480.75,627.53 481.00,628.17 481.25,622.36 481.50,615.16 481.75,630.40 482.00,628.38 482.25,623.04 482.50,627.54 482.75,630.92 483.00,621.50 483.25,621.37 483.50,627.76 483.75,627.56 484.00,619.40 484.25,627.12 484.50,619.20 484.75,620.34 485.00,614.98 485.25,621.57 485.50,621.33 485.75,618.09 486.00,620.26 486.25,615.30 486.50,618.06 486.75,618.28 487.00,621.43 487.25,618.12 487.50,611.36 487.75,605.38 488.00,613.76 488.25,618.17 488.50,614.44 488.75,618.91 489.00,614.07 489.25,613.68 489.50,614.10 489.75,613.76 490.00,613.34 490.25,614.72 490.50,610.80 490.75,611.09 491.00,612.65 491.25,608.77 491.50,618.86 491.75,610.79 492.00,600.80 492.25,608.79 492.50,613.18 492.75,612.60 493.00,607.99 493.25,607.62 493.50,612.57 493.75,608.70 494.00,607.80 494.25,610.74 494.50,612.03 494.75,605.34 495.00,606.75 495.25,614.55 495.50,605.82 495.75,604.60 496.00,605.67 496.25,605.82 496.50,612.42 496.75,612.92 497.00,605.56 497.25,604.16 497.50,605.42 497.75,599.15 498.00,603.42 498.25,608.68 498.50,600.27 498.75,603.54 499.00,601.60 499.25,595.63 499.50,605.07 499.75,605.55 500.00,602.82 500.25,605.67 500.50,602.80 500.75,600.22 501.00,597.79 501.25,597.81 501.50,597.12 501.75,598.57 502.00,598.99 502.25,602.68 502.50,597.68 502.75,602.15 503.00,590.24 503.25,587.43 503.50,605.87 503.75,598.35 504.00,600.71 504.25,603.52 504.50,601.85 504.75,600.04 505.00,594.67 505.25,598.67 505.50,597.03 505.75,598.27 506.00,594.21 506.25,596.24 506.50,602.24 506.75,600.03 507.00,593.77 507.25,598.27 507.50,594.42 507.75,594.78 508.00,594.51 508.25,596.82 508.50,594.95 508.75,599.17 509.00,590.31 509.25,589.48 509.50,594.43 509.75,594.72 510.00,591.21 510.25,595.02 510.50,581.54 510.75,596.39 511.00,596.70 511.25,597.71 511.50,594.41 511.75,590.93 512.00,598.91 512.25,591.01 512.50,589.88 512.75,590.06 513.00,591.77 513.25,590.71 513.50,590.63 513.75,590.90 514.00,590.40 514.25,595.78 514.50,596.77 514.75,584.21 515.00,591.57 515.25,601.20 515.50,592.50 515.75,591.92 516.00,596.43 516.25,590.07 516.50,587.84 516.75,592.48 517.00,577.24 517.25,589.36 517.50,577.68 517.75,594.12 518.00,585.53 518.25,589.98 518.50,583.87 518.75,590.26 519.00,589.40 519.25,581.23 519.50,583.68 519.75,584.45 520.00,592.13 520.25,592.22 520.50,583.21 520.75,590.16 521.00,588.90 521.25,591.31 521.50,582.65 521.75,586.42 522.00,588.44 522.25,587.80 522.50,587.09 522.75,579.33 523.00,584.34 523.25,582.42 523.50,587.39 523.75,586.27 524.00,584.58 524.25,581.52 524.50,582.58 524.75,581.52 525.00,588.36 525.25,583.50 525.50,585.28 525.75,587.60 526.00,584.84 526.25,584.26 526.50,586.34 526.75,584.16 527.00,583.54 527.25,580.42 527.50,584.39 527.75,584.75 528.00,578.97 528.25,582.49 528.50,576.24 528.75,578.44 529.00,582.12 529.25,583.03 529.50,576.52 529.75,582.42 530.00,584.37 530.25,583.43 530.50,578.79 530.75,587.46 531.00,585.01 531.25,583.02 531.50,581.23 531.75,585.08 532.00,582.17 532.25,577.26 532.50,586.72 532.75,581.76 533.00,580.84 533.25,580.07 533.50,578.88 533.75,579.77 534.00,581.78 534.25,578.51 534.50,578.03 534.75,574.42 535.00,581.13 535.25,582.62 535.50,580.06 535.75,588.04 536.00,582.56 536.25,582.24 536.50,582.52 536.75,577.19 537.00,572.10 537.25,577.82 537.50,581.12 537.75,571.07 538.00,578.96 538.25,567.83 538.50,577.44 538.75,578.61 539.00,578.76 539.25,580.22 539.50,574.21 539.75,580.71 540.00,574.23 540.25,584.12 540.50,581.54 540.75,575.65 541.00,579.51 541.25,569.35 541.50,582.90 541.75,574.94 542.00,589.58 542.25,571.54 542.50,584.70 542.75,578.36 543.00,566.51 543.25,580.67 543.50,579.33 543.75,584.24 544.00,571.31 544.25,577.04 544.50,573.83 544.75,573.80 545.00,579.50 545.25,576.72 545.50,571.73 545.75,579.05 546.00,574.55 546.25,578.01 546.50,580.32 546.75,577.42 547.00,573.13 547.25,581.37 547.50,578.61 547.75,569.73 548.00,578.96 548.25,581.14 548.50,580.12 548.75,578.75 549.00,578.25 549.25,577.07 549.50,577.27 549.75,583.56 550.00,576.93 550.25,576.25 550.50,576.09 550.75,579.95 551.00,575.92 551.25,579.66 551.50,578.69 551.75,584.75 552.00,576.18 552.25,579.44 552.50,576.27 552.75,579.15 553.00,577.81 553.25,581.87 553.50,576.25 553.75,572.69 554.00,573.22 554.25,578.57 554.50,573.87 554.75,576.52 555.00,575.96 555.25,585.17 555.50,581.45 555.75,575.09 556.00,577.49 556.25,572.38 556.50,580.82 556.75,580.66 557.00,577.22 557.25,571.78 557.50,576.09 557.75,577.46 558.00,571.51 558.25,577.69 558.50,574.58 558.75,573.93 559.00,573.25 559.25,573.05 559.50,576.31 559.75,576.02 560.00,576.42 560.25,576.84 560.50,576.40 560.75,575.42 561.00,578.40 561.25,581.60 561.50,576.60 561.75,577.54 562.00,580.75 562.25,575.14 562.50,566.51 562.75,575.49 563.00,589.39 563.25,571.88 563.50,577.64 563.75,581.29 564.00,581.97 564.25,579.41 564.50,566.51 564.75,579.99 565.00,572.62 565.25,578.09 565.50,583.09 565.75,571.83 566.00,573.96 566.25,579.27 566.50,577.48 566.75,570.38 567.00,581.63 567.25,575.21 567.50,586.52 567.75,584.33 568.00,573.57 568.25,576.16 568.50,575.90 568.75,584.08 569.00,576.18 569.25,572.13 569.50,577.96 569.75,580.36 570.00,578.36 570.25,578.05 570.50,574.36 570.75,581.94 571.00,580.97 571.25,579.30 571.50,576.13 571.75,575.38 572.00,574.52 572.25,583.71 572.50,581.02 572.75,578.94 573.00,572.71 573.25,583.55 573.50,579.01 573.75,573.98 574.00,578.85 574.25,577.87 574.50,580.94 574.75,568.61 575.00,577.72 575.25,582.13 575.50,575.18 575.75,580.90 576.00,581.78 576.25,582.47 576.50,576.56 576.75,581.72 577.00,588.40 577.25,577.67 577.50,578.07 577.75,584.77 578.00,586.01 578.25,578.28 578.50,575.90 578.75,582.86 579.00,577.38 579.25,578.51 579.50,578.13 579.75,577.78 580.00,575.62 580.25,581.64 580.50,577.92 580.75,574.64 581.00,575.58 581.25,572.23 581.50,582.77 581.75,571.17 582.00,576.66 582.25,577.81 582.50,580.43 582.75,583.89 583.00,575.41 583.25,586.50 583.50,573.80 583.75,577.28 584.00,577.31 584.25,581.07 584.50,579.74 584.75,584.97 585.00,575.73 585.25,582.72 585.50,571.55 585.75,577.27 586.00,575.98 586.25,584.50 586.50,576.27 586.75,572.89 587.00,577.28 587.25,579.32 587.50,582.96 587.75,580.80 588.00,578.95 588.25,577.04 588.50,571.36 588.75,582.05 589.00,571.80 589.25,578.41 589.50,583.98 589.75,574.81 590.00,586.25 590.25,574.79 590.50,579.00 590.75,578.64 591.00,574.06 591.25,580.63 591.50,576.40 591.75,582.48 592.00,575.86 592.25,571.13 592.50,583.38 592.75,583.13 593.00,577.62 593.25,576.51 593.50,581.74 593.75,574.07 594.00,568.04 594.25,577.14 594.50,579.44 594.75,578.38 595.00,577.18 595.25,581.59 595.50,575.62 595.75,575.11 596.00,573.95 596.25,585.38 596.50,581.08 596.75,578.59 597.00,580.11 597.25,577.23 597.50,573.82 597.75,574.69 598.00,576.01 598.25,580.66 598.50,580.64 598.75,575.65 599.00,575.10 599.25,574.77 599.50,579.38 599.75,580.92 600.00,582.09 600.25,580.09 600.50,582.66 600.75,579.64 601.00,579.36 601.25,578.96 601.50,580.00 601.75,577.87 602.00,574.15 602.25,581.89 602.50,578.50 602.75,579.52 603.00,577.01 603.25,575.56 603.50,579.69 603.75,578.68 604.00,586.98 604.25,581.12 604.50,583.38 604.75,580.19 605.00,581.48 605.25,579.89 605.50,574.01 605.75,589.39 606.00,574.23 606.25,580.28 606.50,572.62 606.75,574.21 607.00,577.79 607.25,577.86 607.50,571.91 607.75,576.99 608.00,579.83 608.25,577.34 608.50,566.51" fill="none" stroke="#777" stroke-width="1.1" stroke-linejoin="round" />
</svg>
</body></html>
